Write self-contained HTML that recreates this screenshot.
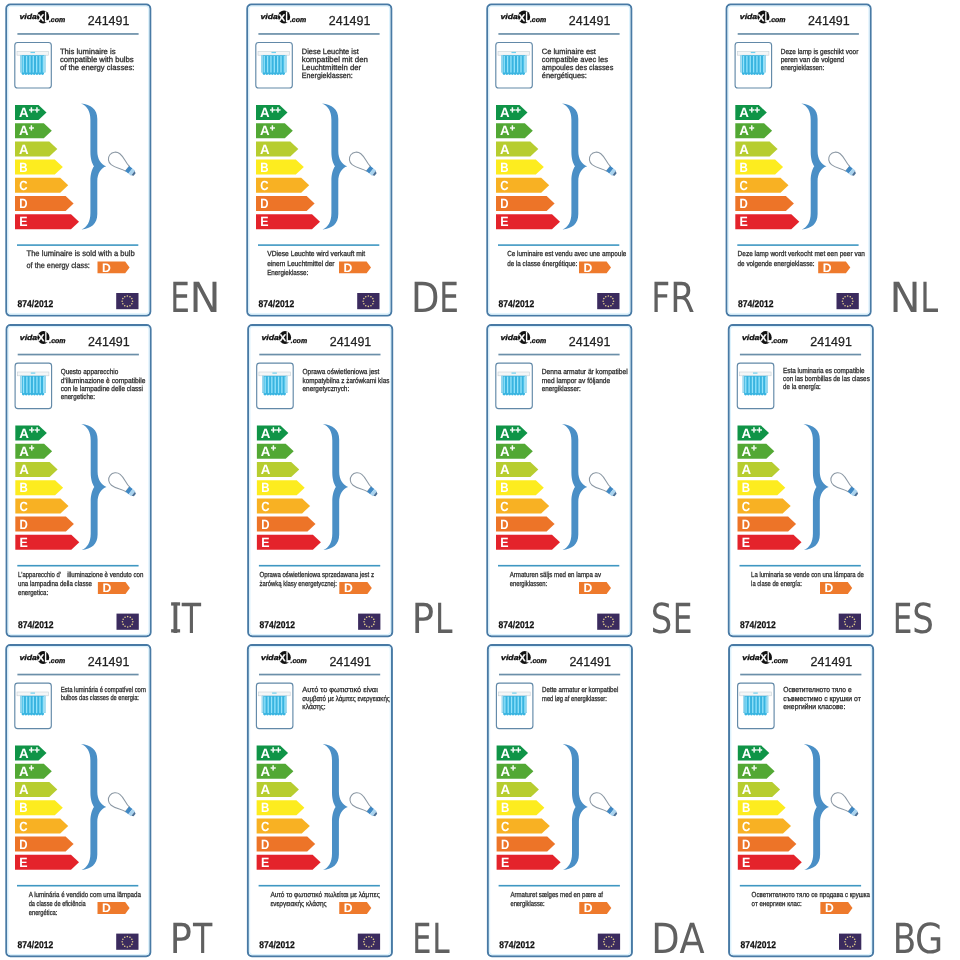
<!DOCTYPE html>
<html lang="en"><head><meta charset="utf-8"><title>Energy labels 241491</title>
<style>html,body{margin:0;padding:0;background:#fff}body{width:960px;height:960px;overflow:hidden}svg{display:block}</style></head><body>
<svg width="960" height="960" viewBox="0 0 960 960" text-rendering="geometricPrecision">
<rect width="960" height="960" fill="#fff"/>
<g transform="translate(0 0)">
<rect x="6.3" y="4.5" width="144" height="311.1" rx="4" fill="#fff" stroke="#487aa5" stroke-width="2"/>
<rect x="7.9" y="6.1" width="140.8" height="307.9" rx="2.8" fill="none" stroke="#dcf2fd" stroke-width="1.3"/>
<g font-family='"Liberation Sans", sans-serif' font-weight="700" font-style="italic" fill="#111">
<text x="19.5" y="19" font-size="7.3" textLength="17.4" lengthAdjust="spacingAndGlyphs" stroke="#111" stroke-width="0.3">vida</text>
<ellipse cx="43.1" cy="16.9" rx="6.1" ry="6.5" fill="#111"/>
<text y="21" font-style="normal" fill="#fff" stroke="#fff" stroke-width="0.25"><tspan x="37.5" font-size="9.6" textLength="6.6" lengthAdjust="spacingAndGlyphs">X</tspan><tspan x="44.4" y="22" font-size="15" textLength="4.6" lengthAdjust="spacingAndGlyphs">L</tspan></text>
<text x="48.9" y="22" font-size="7.1" textLength="16.3" lengthAdjust="spacingAndGlyphs" stroke="#111" stroke-width="0.3">.com</text>
</g>
<text x="87.8" y="25" font-family='"Liberation Sans", sans-serif' font-size="13" fill="#222" stroke="#222" stroke-width="0.25" textLength="41.6" lengthAdjust="spacingAndGlyphs">241491</text>
<rect x="17.4" y="33.1" width="121.2" height="1.7" fill="#6b8fa9"/>
<rect x="17" y="244.3" width="121.3" height="1.6" fill="#3f97c2"/>
<rect x="14.8" y="42.5" width="36.5" height="45.5" rx="2.8" fill="#fff" stroke="#6289a8" stroke-width="1.15"/>
<rect x="17" y="51.4" width="31.6" height="3.8" fill="#f4f6f7" stroke="#c9d2d8" stroke-width="0.6"/>
<rect x="30.5" y="51.9" width="4.5" height="1.2" fill="#6fd0ee"/>
<rect x="20.2" y="55.2" width="25.2" height="17.2" fill="#39b4e0"/>
<rect x="21.8" y="72.2" width="22" height="1.4" fill="#39b4e0"/>
<circle cx="23.1" cy="73.5" r="1.45" fill="#39b4e0"/>
<circle cx="25.87" cy="73.5" r="1.45" fill="#39b4e0"/>
<circle cx="28.64" cy="73.5" r="1.45" fill="#39b4e0"/>
<circle cx="31.41" cy="73.5" r="1.45" fill="#39b4e0"/>
<circle cx="34.18" cy="73.5" r="1.45" fill="#39b4e0"/>
<circle cx="36.95" cy="73.5" r="1.45" fill="#39b4e0"/>
<circle cx="39.72" cy="73.5" r="1.45" fill="#39b4e0"/>
<circle cx="42.49" cy="73.5" r="1.45" fill="#39b4e0"/>
<rect x="22.6" y="56" width="1.3" height="16.5" fill="#93e3fb"/>
<rect x="25.95" y="56" width="1.3" height="16.5" fill="#93e3fb"/>
<rect x="29.3" y="56" width="1.3" height="16.5" fill="#93e3fb"/>
<rect x="32.65" y="56" width="1.3" height="16.5" fill="#93e3fb"/>
<rect x="36" y="56" width="1.3" height="16.5" fill="#93e3fb"/>
<rect x="39.35" y="56" width="1.3" height="16.5" fill="#93e3fb"/>
<rect x="42.7" y="56" width="1.3" height="16.5" fill="#93e3fb"/>
<rect x="20.2" y="55.2" width="1.6" height="17" fill="#a5dcf0"/>
<rect x="43.8" y="55.2" width="1.6" height="17" fill="#a5dcf0"/>
<g font-family='"Liberation Sans", sans-serif' font-size="7.7" fill="#2c2c2c" stroke="#2c2c2c" stroke-width="0.28">
<text x="59.9" y="54" textLength="55.6" lengthAdjust="spacingAndGlyphs">This luminaire is</text>
<text x="59.9" y="62" textLength="73.7" lengthAdjust="spacingAndGlyphs">compatible with bulbs</text>
<text x="59.9" y="70" textLength="74.6" lengthAdjust="spacingAndGlyphs">of the energy classes:</text>
</g>
<path d="M15 105H38.5L46.5 112.5L38.5 120H15Z" fill="#0f9447"/>
<text x="18.9" y="117" font-family='"Liberation Sans", sans-serif' font-weight="700" font-size="13.3" fill="#fff">A<tspan font-size="9.2" dy="-4.5" dx="0.3" stroke="#fff" stroke-width="0.3">++</tspan></text>
<path d="M15 123.2H43.8L51.8 130.7L43.8 138.2H15Z" fill="#52a834"/>
<text x="18.9" y="135" font-family='"Liberation Sans", sans-serif' font-weight="700" font-size="13.3" fill="#fff">A<tspan font-size="9.2" dy="-4.5" dx="0.3" stroke="#fff" stroke-width="0.3">+</tspan></text>
<path d="M15 141.4H49.3L57.3 148.9L49.3 156.4H15Z" fill="#b7cd2f"/>
<text x="18.9" y="154" font-family='"Liberation Sans", sans-serif' font-weight="700" font-size="13.3" fill="#fff">A</text>
<path d="M15 159.6H54.8L62.8 167.1L54.8 174.6H15Z" fill="#fdec1f"/>
<text x="19.3" y="172" font-family='"Liberation Sans", sans-serif' font-weight="700" font-size="13.3" fill="#fff" textLength="8.3" lengthAdjust="spacingAndGlyphs">B</text>
<path d="M15 177.8H60.2L68.2 185.3L60.2 192.8H15Z" fill="#f8b123"/>
<text x="19.3" y="190" font-family='"Liberation Sans", sans-serif' font-weight="700" font-size="13.3" fill="#fff" textLength="8.3" lengthAdjust="spacingAndGlyphs">C</text>
<path d="M15 196H65.6L73.6 203.5L65.6 211H15Z" fill="#ed7428"/>
<text x="19.3" y="208" font-family='"Liberation Sans", sans-serif' font-weight="700" font-size="13.3" fill="#fff" textLength="8.3" lengthAdjust="spacingAndGlyphs">D</text>
<path d="M15 214.2H71L79 221.7L71 229.2H15Z" fill="#e4232b"/>
<text x="19.3" y="226" font-family='"Liberation Sans", sans-serif' font-weight="700" font-size="13.3" fill="#fff" textLength="8.3" lengthAdjust="spacingAndGlyphs">E</text>
<path d="M81 103.5C91 104.5 97.3 109 97.3 119V151C97.3 159 101 164.5 106.2 166.3C101 168 97.3 173.5 97.3 181.5V214C97.3 224 91 228.5 81.5 229.5C87 227 90.4 222 90.4 213V181C90.4 174 92 169 94 166.3C92 163.5 90.4 159 90.4 152V120C90.4 111 87 106 81 103.5Z" fill="#4a8fc6"/>
<g transform="translate(115.5 159.2) rotate(-51.5)">
<path d="M-3.1 15.2C-3.1 10.5 -7 6.2 -7 0A7 7.2 0 0 1 7 0C7 6.2 3.1 10.5 3.1 15.2Z" fill="#fff" stroke="#8b98a4" stroke-width="1.05"/>
<path d="M-3.3 15H3.3V19H-3.3Z" fill="#3f88c4"/>
<path d="M-3.3 19H3.3V22.4H-3.3Z" fill="#a9d3ee"/>
<path d="M-2.6 22.4H2.6L1.6 24.4H-1.6Z" fill="#4a6f96"/>
</g>
<g font-family='"Liberation Sans", sans-serif' font-size="8.1" fill="#2c2c2c" stroke="#2c2c2c" stroke-width="0.28">
<text x="26.5" y="256" textLength="108.2" lengthAdjust="spacingAndGlyphs">The luminaire is sold with a bulb</text>
<text x="26.5" y="268" textLength="63.4" lengthAdjust="spacingAndGlyphs">of the energy class:</text>
</g>
<path d="M97.5 261.5H125.2L129.6 267.4L125.2 273.3H97.5Z" fill="#ee7a2c"/>
<text x="102.1" y="272" font-family='"Liberation Sans", sans-serif' font-weight="700" font-size="12.2" fill="#fff">D</text>
<text x="17.6" y="307" font-family='"Liberation Sans", sans-serif' font-weight="700" font-size="9.8" fill="#111" stroke="#111" stroke-width="0.25" textLength="35.6" lengthAdjust="spacingAndGlyphs">874/2012</text>
<rect x="116.2" y="293" width="22.3" height="16.2" fill="#3b2b5e"/>
<circle cx="127.35" cy="296" r="0.8" fill="#e3cf8e"/>
<circle cx="129.95" cy="296.7" r="0.8" fill="#e3cf8e"/>
<circle cx="131.85" cy="298.6" r="0.8" fill="#e3cf8e"/>
<circle cx="132.55" cy="301.2" r="0.8" fill="#e3cf8e"/>
<circle cx="131.85" cy="303.8" r="0.8" fill="#e3cf8e"/>
<circle cx="129.95" cy="305.7" r="0.8" fill="#e3cf8e"/>
<circle cx="127.35" cy="306.4" r="0.8" fill="#e3cf8e"/>
<circle cx="124.75" cy="305.7" r="0.8" fill="#e3cf8e"/>
<circle cx="122.85" cy="303.8" r="0.8" fill="#e3cf8e"/>
<circle cx="122.15" cy="301.2" r="0.8" fill="#e3cf8e"/>
<circle cx="122.85" cy="298.6" r="0.8" fill="#e3cf8e"/>
<circle cx="124.75" cy="296.7" r="0.8" fill="#e3cf8e"/>
</g>
<g transform="translate(241 0)">
<rect x="6.3" y="4.5" width="144" height="311.1" rx="4" fill="#fff" stroke="#487aa5" stroke-width="2"/>
<rect x="7.9" y="6.1" width="140.8" height="307.9" rx="2.8" fill="none" stroke="#dcf2fd" stroke-width="1.3"/>
<g font-family='"Liberation Sans", sans-serif' font-weight="700" font-style="italic" fill="#111">
<text x="19.5" y="19" font-size="7.3" textLength="17.4" lengthAdjust="spacingAndGlyphs" stroke="#111" stroke-width="0.3">vida</text>
<ellipse cx="43.1" cy="16.9" rx="6.1" ry="6.5" fill="#111"/>
<text y="21" font-style="normal" fill="#fff" stroke="#fff" stroke-width="0.25"><tspan x="37.5" font-size="9.6" textLength="6.6" lengthAdjust="spacingAndGlyphs">X</tspan><tspan x="44.4" y="22" font-size="15" textLength="4.6" lengthAdjust="spacingAndGlyphs">L</tspan></text>
<text x="48.9" y="22" font-size="7.1" textLength="16.3" lengthAdjust="spacingAndGlyphs" stroke="#111" stroke-width="0.3">.com</text>
</g>
<text x="87.8" y="25" font-family='"Liberation Sans", sans-serif' font-size="13" fill="#222" stroke="#222" stroke-width="0.25" textLength="41.6" lengthAdjust="spacingAndGlyphs">241491</text>
<rect x="17.4" y="33.1" width="121.2" height="1.7" fill="#6b8fa9"/>
<rect x="17" y="244.3" width="121.3" height="1.6" fill="#3f97c2"/>
<rect x="14.8" y="42.5" width="36.5" height="45.5" rx="2.8" fill="#fff" stroke="#6289a8" stroke-width="1.15"/>
<rect x="17" y="51.4" width="31.6" height="3.8" fill="#f4f6f7" stroke="#c9d2d8" stroke-width="0.6"/>
<rect x="30.5" y="51.9" width="4.5" height="1.2" fill="#6fd0ee"/>
<rect x="20.2" y="55.2" width="25.2" height="17.2" fill="#39b4e0"/>
<rect x="21.8" y="72.2" width="22" height="1.4" fill="#39b4e0"/>
<circle cx="23.1" cy="73.5" r="1.45" fill="#39b4e0"/>
<circle cx="25.87" cy="73.5" r="1.45" fill="#39b4e0"/>
<circle cx="28.64" cy="73.5" r="1.45" fill="#39b4e0"/>
<circle cx="31.41" cy="73.5" r="1.45" fill="#39b4e0"/>
<circle cx="34.18" cy="73.5" r="1.45" fill="#39b4e0"/>
<circle cx="36.95" cy="73.5" r="1.45" fill="#39b4e0"/>
<circle cx="39.72" cy="73.5" r="1.45" fill="#39b4e0"/>
<circle cx="42.49" cy="73.5" r="1.45" fill="#39b4e0"/>
<rect x="22.6" y="56" width="1.3" height="16.5" fill="#93e3fb"/>
<rect x="25.95" y="56" width="1.3" height="16.5" fill="#93e3fb"/>
<rect x="29.3" y="56" width="1.3" height="16.5" fill="#93e3fb"/>
<rect x="32.65" y="56" width="1.3" height="16.5" fill="#93e3fb"/>
<rect x="36" y="56" width="1.3" height="16.5" fill="#93e3fb"/>
<rect x="39.35" y="56" width="1.3" height="16.5" fill="#93e3fb"/>
<rect x="42.7" y="56" width="1.3" height="16.5" fill="#93e3fb"/>
<rect x="20.2" y="55.2" width="1.6" height="17" fill="#a5dcf0"/>
<rect x="43.8" y="55.2" width="1.6" height="17" fill="#a5dcf0"/>
<g font-family='"Liberation Sans", sans-serif' font-size="7.7" fill="#2c2c2c" stroke="#2c2c2c" stroke-width="0.28">
<text x="60.8" y="54" textLength="56.95" lengthAdjust="spacingAndGlyphs">Diese Leuchte ist</text>
<text x="60.8" y="62" textLength="66.1" lengthAdjust="spacingAndGlyphs">kompatibel mit den</text>
<text x="60.8" y="70" textLength="59.3" lengthAdjust="spacingAndGlyphs">Leuchtmitteln der</text>
<text x="60.8" y="78" textLength="51" lengthAdjust="spacingAndGlyphs">Energieklassen:</text>
</g>
<path d="M15 105H38.5L46.5 112.5L38.5 120H15Z" fill="#0f9447"/>
<text x="18.9" y="117" font-family='"Liberation Sans", sans-serif' font-weight="700" font-size="13.3" fill="#fff">A<tspan font-size="9.2" dy="-4.5" dx="0.3" stroke="#fff" stroke-width="0.3">++</tspan></text>
<path d="M15 123.2H43.8L51.8 130.7L43.8 138.2H15Z" fill="#52a834"/>
<text x="18.9" y="135" font-family='"Liberation Sans", sans-serif' font-weight="700" font-size="13.3" fill="#fff">A<tspan font-size="9.2" dy="-4.5" dx="0.3" stroke="#fff" stroke-width="0.3">+</tspan></text>
<path d="M15 141.4H49.3L57.3 148.9L49.3 156.4H15Z" fill="#b7cd2f"/>
<text x="18.9" y="154" font-family='"Liberation Sans", sans-serif' font-weight="700" font-size="13.3" fill="#fff">A</text>
<path d="M15 159.6H54.8L62.8 167.1L54.8 174.6H15Z" fill="#fdec1f"/>
<text x="19.3" y="172" font-family='"Liberation Sans", sans-serif' font-weight="700" font-size="13.3" fill="#fff" textLength="8.3" lengthAdjust="spacingAndGlyphs">B</text>
<path d="M15 177.8H60.2L68.2 185.3L60.2 192.8H15Z" fill="#f8b123"/>
<text x="19.3" y="190" font-family='"Liberation Sans", sans-serif' font-weight="700" font-size="13.3" fill="#fff" textLength="8.3" lengthAdjust="spacingAndGlyphs">C</text>
<path d="M15 196H65.6L73.6 203.5L65.6 211H15Z" fill="#ed7428"/>
<text x="19.3" y="208" font-family='"Liberation Sans", sans-serif' font-weight="700" font-size="13.3" fill="#fff" textLength="8.3" lengthAdjust="spacingAndGlyphs">D</text>
<path d="M15 214.2H71L79 221.7L71 229.2H15Z" fill="#e4232b"/>
<text x="19.3" y="226" font-family='"Liberation Sans", sans-serif' font-weight="700" font-size="13.3" fill="#fff" textLength="8.3" lengthAdjust="spacingAndGlyphs">E</text>
<path d="M81 103.5C91 104.5 97.3 109 97.3 119V151C97.3 159 101 164.5 106.2 166.3C101 168 97.3 173.5 97.3 181.5V214C97.3 224 91 228.5 81.5 229.5C87 227 90.4 222 90.4 213V181C90.4 174 92 169 94 166.3C92 163.5 90.4 159 90.4 152V120C90.4 111 87 106 81 103.5Z" fill="#4a8fc6"/>
<g transform="translate(115.5 159.2) rotate(-51.5)">
<path d="M-3.1 15.2C-3.1 10.5 -7 6.2 -7 0A7 7.2 0 0 1 7 0C7 6.2 3.1 10.5 3.1 15.2Z" fill="#fff" stroke="#8b98a4" stroke-width="1.05"/>
<path d="M-3.3 15H3.3V19H-3.3Z" fill="#3f88c4"/>
<path d="M-3.3 19H3.3V22.4H-3.3Z" fill="#a9d3ee"/>
<path d="M-2.6 22.4H2.6L1.6 24.4H-1.6Z" fill="#4a6f96"/>
</g>
<g font-family='"Liberation Sans", sans-serif' font-size="7.4" fill="#2c2c2c" stroke="#2c2c2c" stroke-width="0.28">
<text x="26.2" y="256" textLength="98" lengthAdjust="spacingAndGlyphs">VDiese Leuchte wird verkauft mit</text>
<text x="26.2" y="266" textLength="67.4" lengthAdjust="spacingAndGlyphs">einem Leuchtmittel der</text>
<text x="26.2" y="275" textLength="41.1" lengthAdjust="spacingAndGlyphs">Energieklasse:</text>
</g>
<path d="M98 261.5H125.6L130 267.4L125.6 273.3H98Z" fill="#ee7a2c"/>
<text x="102.6" y="272" font-family='"Liberation Sans", sans-serif' font-weight="700" font-size="12.2" fill="#fff">D</text>
<text x="17.6" y="307" font-family='"Liberation Sans", sans-serif' font-weight="700" font-size="9.8" fill="#111" stroke="#111" stroke-width="0.25" textLength="35.6" lengthAdjust="spacingAndGlyphs">874/2012</text>
<rect x="116.2" y="293" width="22.3" height="16.2" fill="#3b2b5e"/>
<circle cx="127.35" cy="296" r="0.8" fill="#e3cf8e"/>
<circle cx="129.95" cy="296.7" r="0.8" fill="#e3cf8e"/>
<circle cx="131.85" cy="298.6" r="0.8" fill="#e3cf8e"/>
<circle cx="132.55" cy="301.2" r="0.8" fill="#e3cf8e"/>
<circle cx="131.85" cy="303.8" r="0.8" fill="#e3cf8e"/>
<circle cx="129.95" cy="305.7" r="0.8" fill="#e3cf8e"/>
<circle cx="127.35" cy="306.4" r="0.8" fill="#e3cf8e"/>
<circle cx="124.75" cy="305.7" r="0.8" fill="#e3cf8e"/>
<circle cx="122.85" cy="303.8" r="0.8" fill="#e3cf8e"/>
<circle cx="122.15" cy="301.2" r="0.8" fill="#e3cf8e"/>
<circle cx="122.85" cy="298.6" r="0.8" fill="#e3cf8e"/>
<circle cx="124.75" cy="296.7" r="0.8" fill="#e3cf8e"/>
</g>
<g transform="translate(481 0)">
<rect x="6.3" y="4.5" width="144" height="311.1" rx="4" fill="#fff" stroke="#487aa5" stroke-width="2"/>
<rect x="7.9" y="6.1" width="140.8" height="307.9" rx="2.8" fill="none" stroke="#dcf2fd" stroke-width="1.3"/>
<g font-family='"Liberation Sans", sans-serif' font-weight="700" font-style="italic" fill="#111">
<text x="19.5" y="19" font-size="7.3" textLength="17.4" lengthAdjust="spacingAndGlyphs" stroke="#111" stroke-width="0.3">vida</text>
<ellipse cx="43.1" cy="16.9" rx="6.1" ry="6.5" fill="#111"/>
<text y="21" font-style="normal" fill="#fff" stroke="#fff" stroke-width="0.25"><tspan x="37.5" font-size="9.6" textLength="6.6" lengthAdjust="spacingAndGlyphs">X</tspan><tspan x="44.4" y="22" font-size="15" textLength="4.6" lengthAdjust="spacingAndGlyphs">L</tspan></text>
<text x="48.9" y="22" font-size="7.1" textLength="16.3" lengthAdjust="spacingAndGlyphs" stroke="#111" stroke-width="0.3">.com</text>
</g>
<text x="87.8" y="25" font-family='"Liberation Sans", sans-serif' font-size="13" fill="#222" stroke="#222" stroke-width="0.25" textLength="41.6" lengthAdjust="spacingAndGlyphs">241491</text>
<rect x="17.4" y="33.1" width="121.2" height="1.7" fill="#6b8fa9"/>
<rect x="17" y="244.3" width="121.3" height="1.6" fill="#3f97c2"/>
<rect x="14.8" y="42.5" width="36.5" height="45.5" rx="2.8" fill="#fff" stroke="#6289a8" stroke-width="1.15"/>
<rect x="17" y="51.4" width="31.6" height="3.8" fill="#f4f6f7" stroke="#c9d2d8" stroke-width="0.6"/>
<rect x="30.5" y="51.9" width="4.5" height="1.2" fill="#6fd0ee"/>
<rect x="20.2" y="55.2" width="25.2" height="17.2" fill="#39b4e0"/>
<rect x="21.8" y="72.2" width="22" height="1.4" fill="#39b4e0"/>
<circle cx="23.1" cy="73.5" r="1.45" fill="#39b4e0"/>
<circle cx="25.87" cy="73.5" r="1.45" fill="#39b4e0"/>
<circle cx="28.64" cy="73.5" r="1.45" fill="#39b4e0"/>
<circle cx="31.41" cy="73.5" r="1.45" fill="#39b4e0"/>
<circle cx="34.18" cy="73.5" r="1.45" fill="#39b4e0"/>
<circle cx="36.95" cy="73.5" r="1.45" fill="#39b4e0"/>
<circle cx="39.72" cy="73.5" r="1.45" fill="#39b4e0"/>
<circle cx="42.49" cy="73.5" r="1.45" fill="#39b4e0"/>
<rect x="22.6" y="56" width="1.3" height="16.5" fill="#93e3fb"/>
<rect x="25.95" y="56" width="1.3" height="16.5" fill="#93e3fb"/>
<rect x="29.3" y="56" width="1.3" height="16.5" fill="#93e3fb"/>
<rect x="32.65" y="56" width="1.3" height="16.5" fill="#93e3fb"/>
<rect x="36" y="56" width="1.3" height="16.5" fill="#93e3fb"/>
<rect x="39.35" y="56" width="1.3" height="16.5" fill="#93e3fb"/>
<rect x="42.7" y="56" width="1.3" height="16.5" fill="#93e3fb"/>
<rect x="20.2" y="55.2" width="1.6" height="17" fill="#a5dcf0"/>
<rect x="43.8" y="55.2" width="1.6" height="17" fill="#a5dcf0"/>
<g font-family='"Liberation Sans", sans-serif' font-size="7.7" fill="#2c2c2c" stroke="#2c2c2c" stroke-width="0.28">
<text x="60.8" y="54" textLength="54.1" lengthAdjust="spacingAndGlyphs">Ce luminaire est</text>
<text x="60.8" y="62" textLength="66.1" lengthAdjust="spacingAndGlyphs">compatible avec les</text>
<text x="60.8" y="70" textLength="71.5" lengthAdjust="spacingAndGlyphs">ampoules des classes</text>
<text x="60.8" y="78" textLength="45" lengthAdjust="spacingAndGlyphs">énergétiques:</text>
</g>
<path d="M15 105H38.5L46.5 112.5L38.5 120H15Z" fill="#0f9447"/>
<text x="18.9" y="117" font-family='"Liberation Sans", sans-serif' font-weight="700" font-size="13.3" fill="#fff">A<tspan font-size="9.2" dy="-4.5" dx="0.3" stroke="#fff" stroke-width="0.3">++</tspan></text>
<path d="M15 123.2H43.8L51.8 130.7L43.8 138.2H15Z" fill="#52a834"/>
<text x="18.9" y="135" font-family='"Liberation Sans", sans-serif' font-weight="700" font-size="13.3" fill="#fff">A<tspan font-size="9.2" dy="-4.5" dx="0.3" stroke="#fff" stroke-width="0.3">+</tspan></text>
<path d="M15 141.4H49.3L57.3 148.9L49.3 156.4H15Z" fill="#b7cd2f"/>
<text x="18.9" y="154" font-family='"Liberation Sans", sans-serif' font-weight="700" font-size="13.3" fill="#fff">A</text>
<path d="M15 159.6H54.8L62.8 167.1L54.8 174.6H15Z" fill="#fdec1f"/>
<text x="19.3" y="172" font-family='"Liberation Sans", sans-serif' font-weight="700" font-size="13.3" fill="#fff" textLength="8.3" lengthAdjust="spacingAndGlyphs">B</text>
<path d="M15 177.8H60.2L68.2 185.3L60.2 192.8H15Z" fill="#f8b123"/>
<text x="19.3" y="190" font-family='"Liberation Sans", sans-serif' font-weight="700" font-size="13.3" fill="#fff" textLength="8.3" lengthAdjust="spacingAndGlyphs">C</text>
<path d="M15 196H65.6L73.6 203.5L65.6 211H15Z" fill="#ed7428"/>
<text x="19.3" y="208" font-family='"Liberation Sans", sans-serif' font-weight="700" font-size="13.3" fill="#fff" textLength="8.3" lengthAdjust="spacingAndGlyphs">D</text>
<path d="M15 214.2H71L79 221.7L71 229.2H15Z" fill="#e4232b"/>
<text x="19.3" y="226" font-family='"Liberation Sans", sans-serif' font-weight="700" font-size="13.3" fill="#fff" textLength="8.3" lengthAdjust="spacingAndGlyphs">E</text>
<path d="M81 103.5C91 104.5 97.3 109 97.3 119V151C97.3 159 101 164.5 106.2 166.3C101 168 97.3 173.5 97.3 181.5V214C97.3 224 91 228.5 81.5 229.5C87 227 90.4 222 90.4 213V181C90.4 174 92 169 94 166.3C92 163.5 90.4 159 90.4 152V120C90.4 111 87 106 81 103.5Z" fill="#4a8fc6"/>
<g transform="translate(115.5 159.2) rotate(-51.5)">
<path d="M-3.1 15.2C-3.1 10.5 -7 6.2 -7 0A7 7.2 0 0 1 7 0C7 6.2 3.1 10.5 3.1 15.2Z" fill="#fff" stroke="#8b98a4" stroke-width="1.05"/>
<path d="M-3.3 15H3.3V19H-3.3Z" fill="#3f88c4"/>
<path d="M-3.3 19H3.3V22.4H-3.3Z" fill="#a9d3ee"/>
<path d="M-2.6 22.4H2.6L1.6 24.4H-1.6Z" fill="#4a6f96"/>
</g>
<g font-family='"Liberation Sans", sans-serif' font-size="7.4" fill="#2c2c2c" stroke="#2c2c2c" stroke-width="0.28">
<text x="26.2" y="256" textLength="119.2" lengthAdjust="spacingAndGlyphs">Ce luminaire est vendu avec une ampoule</text>
<text x="26.2" y="266" textLength="70" lengthAdjust="spacingAndGlyphs">de la classe énergétique:</text>
</g>
<path d="M98 261.5H125.6L130 267.4L125.6 273.3H98Z" fill="#ee7a2c"/>
<text x="102.6" y="272" font-family='"Liberation Sans", sans-serif' font-weight="700" font-size="12.2" fill="#fff">D</text>
<text x="17.6" y="307" font-family='"Liberation Sans", sans-serif' font-weight="700" font-size="9.8" fill="#111" stroke="#111" stroke-width="0.25" textLength="35.6" lengthAdjust="spacingAndGlyphs">874/2012</text>
<rect x="116.2" y="293" width="22.3" height="16.2" fill="#3b2b5e"/>
<circle cx="127.35" cy="296" r="0.8" fill="#e3cf8e"/>
<circle cx="129.95" cy="296.7" r="0.8" fill="#e3cf8e"/>
<circle cx="131.85" cy="298.6" r="0.8" fill="#e3cf8e"/>
<circle cx="132.55" cy="301.2" r="0.8" fill="#e3cf8e"/>
<circle cx="131.85" cy="303.8" r="0.8" fill="#e3cf8e"/>
<circle cx="129.95" cy="305.7" r="0.8" fill="#e3cf8e"/>
<circle cx="127.35" cy="306.4" r="0.8" fill="#e3cf8e"/>
<circle cx="124.75" cy="305.7" r="0.8" fill="#e3cf8e"/>
<circle cx="122.85" cy="303.8" r="0.8" fill="#e3cf8e"/>
<circle cx="122.15" cy="301.2" r="0.8" fill="#e3cf8e"/>
<circle cx="122.85" cy="298.6" r="0.8" fill="#e3cf8e"/>
<circle cx="124.75" cy="296.7" r="0.8" fill="#e3cf8e"/>
</g>
<g transform="translate(720.3 0)">
<rect x="6.3" y="4.5" width="144" height="311.1" rx="4" fill="#fff" stroke="#487aa5" stroke-width="2"/>
<rect x="7.9" y="6.1" width="140.8" height="307.9" rx="2.8" fill="none" stroke="#dcf2fd" stroke-width="1.3"/>
<g font-family='"Liberation Sans", sans-serif' font-weight="700" font-style="italic" fill="#111">
<text x="19.5" y="19" font-size="7.3" textLength="17.4" lengthAdjust="spacingAndGlyphs" stroke="#111" stroke-width="0.3">vida</text>
<ellipse cx="43.1" cy="16.9" rx="6.1" ry="6.5" fill="#111"/>
<text y="21" font-style="normal" fill="#fff" stroke="#fff" stroke-width="0.25"><tspan x="37.5" font-size="9.6" textLength="6.6" lengthAdjust="spacingAndGlyphs">X</tspan><tspan x="44.4" y="22" font-size="15" textLength="4.6" lengthAdjust="spacingAndGlyphs">L</tspan></text>
<text x="48.9" y="22" font-size="7.1" textLength="16.3" lengthAdjust="spacingAndGlyphs" stroke="#111" stroke-width="0.3">.com</text>
</g>
<text x="87.8" y="25" font-family='"Liberation Sans", sans-serif' font-size="13" fill="#222" stroke="#222" stroke-width="0.25" textLength="41.6" lengthAdjust="spacingAndGlyphs">241491</text>
<rect x="17.4" y="33.1" width="121.2" height="1.7" fill="#6b8fa9"/>
<rect x="17" y="244.3" width="121.3" height="1.6" fill="#3f97c2"/>
<rect x="14.8" y="42.5" width="36.5" height="45.5" rx="2.8" fill="#fff" stroke="#6289a8" stroke-width="1.15"/>
<rect x="17" y="51.4" width="31.6" height="3.8" fill="#f4f6f7" stroke="#c9d2d8" stroke-width="0.6"/>
<rect x="30.5" y="51.9" width="4.5" height="1.2" fill="#6fd0ee"/>
<rect x="20.2" y="55.2" width="25.2" height="17.2" fill="#39b4e0"/>
<rect x="21.8" y="72.2" width="22" height="1.4" fill="#39b4e0"/>
<circle cx="23.1" cy="73.5" r="1.45" fill="#39b4e0"/>
<circle cx="25.87" cy="73.5" r="1.45" fill="#39b4e0"/>
<circle cx="28.64" cy="73.5" r="1.45" fill="#39b4e0"/>
<circle cx="31.41" cy="73.5" r="1.45" fill="#39b4e0"/>
<circle cx="34.18" cy="73.5" r="1.45" fill="#39b4e0"/>
<circle cx="36.95" cy="73.5" r="1.45" fill="#39b4e0"/>
<circle cx="39.72" cy="73.5" r="1.45" fill="#39b4e0"/>
<circle cx="42.49" cy="73.5" r="1.45" fill="#39b4e0"/>
<rect x="22.6" y="56" width="1.3" height="16.5" fill="#93e3fb"/>
<rect x="25.95" y="56" width="1.3" height="16.5" fill="#93e3fb"/>
<rect x="29.3" y="56" width="1.3" height="16.5" fill="#93e3fb"/>
<rect x="32.65" y="56" width="1.3" height="16.5" fill="#93e3fb"/>
<rect x="36" y="56" width="1.3" height="16.5" fill="#93e3fb"/>
<rect x="39.35" y="56" width="1.3" height="16.5" fill="#93e3fb"/>
<rect x="42.7" y="56" width="1.3" height="16.5" fill="#93e3fb"/>
<rect x="20.2" y="55.2" width="1.6" height="17" fill="#a5dcf0"/>
<rect x="43.8" y="55.2" width="1.6" height="17" fill="#a5dcf0"/>
<g font-family='"Liberation Sans", sans-serif' font-size="7.4" fill="#2c2c2c" stroke="#2c2c2c" stroke-width="0.28">
<text x="60.4" y="54" textLength="77.6" lengthAdjust="spacingAndGlyphs">Deze lamp is geschikt voor</text>
<text x="60.4" y="62" textLength="63.6" lengthAdjust="spacingAndGlyphs">peren van de volgend</text>
<text x="60.4" y="70" textLength="43.5" lengthAdjust="spacingAndGlyphs">energieklassen:</text>
</g>
<path d="M15 105H38.5L46.5 112.5L38.5 120H15Z" fill="#0f9447"/>
<text x="18.9" y="117" font-family='"Liberation Sans", sans-serif' font-weight="700" font-size="13.3" fill="#fff">A<tspan font-size="9.2" dy="-4.5" dx="0.3" stroke="#fff" stroke-width="0.3">++</tspan></text>
<path d="M15 123.2H43.8L51.8 130.7L43.8 138.2H15Z" fill="#52a834"/>
<text x="18.9" y="135" font-family='"Liberation Sans", sans-serif' font-weight="700" font-size="13.3" fill="#fff">A<tspan font-size="9.2" dy="-4.5" dx="0.3" stroke="#fff" stroke-width="0.3">+</tspan></text>
<path d="M15 141.4H49.3L57.3 148.9L49.3 156.4H15Z" fill="#b7cd2f"/>
<text x="18.9" y="154" font-family='"Liberation Sans", sans-serif' font-weight="700" font-size="13.3" fill="#fff">A</text>
<path d="M15 159.6H54.8L62.8 167.1L54.8 174.6H15Z" fill="#fdec1f"/>
<text x="19.3" y="172" font-family='"Liberation Sans", sans-serif' font-weight="700" font-size="13.3" fill="#fff" textLength="8.3" lengthAdjust="spacingAndGlyphs">B</text>
<path d="M15 177.8H60.2L68.2 185.3L60.2 192.8H15Z" fill="#f8b123"/>
<text x="19.3" y="190" font-family='"Liberation Sans", sans-serif' font-weight="700" font-size="13.3" fill="#fff" textLength="8.3" lengthAdjust="spacingAndGlyphs">C</text>
<path d="M15 196H65.6L73.6 203.5L65.6 211H15Z" fill="#ed7428"/>
<text x="19.3" y="208" font-family='"Liberation Sans", sans-serif' font-weight="700" font-size="13.3" fill="#fff" textLength="8.3" lengthAdjust="spacingAndGlyphs">D</text>
<path d="M15 214.2H71L79 221.7L71 229.2H15Z" fill="#e4232b"/>
<text x="19.3" y="226" font-family='"Liberation Sans", sans-serif' font-weight="700" font-size="13.3" fill="#fff" textLength="8.3" lengthAdjust="spacingAndGlyphs">E</text>
<path d="M81 103.5C91 104.5 97.3 109 97.3 119V151C97.3 159 101 164.5 106.2 166.3C101 168 97.3 173.5 97.3 181.5V214C97.3 224 91 228.5 81.5 229.5C87 227 90.4 222 90.4 213V181C90.4 174 92 169 94 166.3C92 163.5 90.4 159 90.4 152V120C90.4 111 87 106 81 103.5Z" fill="#4a8fc6"/>
<g transform="translate(115.5 159.2) rotate(-51.5)">
<path d="M-3.1 15.2C-3.1 10.5 -7 6.2 -7 0A7 7.2 0 0 1 7 0C7 6.2 3.1 10.5 3.1 15.2Z" fill="#fff" stroke="#8b98a4" stroke-width="1.05"/>
<path d="M-3.3 15H3.3V19H-3.3Z" fill="#3f88c4"/>
<path d="M-3.3 19H3.3V22.4H-3.3Z" fill="#a9d3ee"/>
<path d="M-2.6 22.4H2.6L1.6 24.4H-1.6Z" fill="#4a6f96"/>
</g>
<g font-family='"Liberation Sans", sans-serif' font-size="7.4" fill="#2c2c2c" stroke="#2c2c2c" stroke-width="0.28">
<text x="17.3" y="256" textLength="127.3" lengthAdjust="spacingAndGlyphs">Deze lamp wordt verkocht met een peer van</text>
<text x="17.3" y="266" textLength="77" lengthAdjust="spacingAndGlyphs">de volgende energieklasse:</text>
</g>
<path d="M97.9 261.5H125.6L130 267.4L125.6 273.3H97.9Z" fill="#ee7a2c"/>
<text x="102.5" y="272" font-family='"Liberation Sans", sans-serif' font-weight="700" font-size="12.2" fill="#fff">D</text>
<text x="17.6" y="307" font-family='"Liberation Sans", sans-serif' font-weight="700" font-size="9.8" fill="#111" stroke="#111" stroke-width="0.25" textLength="35.6" lengthAdjust="spacingAndGlyphs">874/2012</text>
<rect x="116.2" y="293" width="22.3" height="16.2" fill="#3b2b5e"/>
<circle cx="127.35" cy="296" r="0.8" fill="#e3cf8e"/>
<circle cx="129.95" cy="296.7" r="0.8" fill="#e3cf8e"/>
<circle cx="131.85" cy="298.6" r="0.8" fill="#e3cf8e"/>
<circle cx="132.55" cy="301.2" r="0.8" fill="#e3cf8e"/>
<circle cx="131.85" cy="303.8" r="0.8" fill="#e3cf8e"/>
<circle cx="129.95" cy="305.7" r="0.8" fill="#e3cf8e"/>
<circle cx="127.35" cy="306.4" r="0.8" fill="#e3cf8e"/>
<circle cx="124.75" cy="305.7" r="0.8" fill="#e3cf8e"/>
<circle cx="122.85" cy="303.8" r="0.8" fill="#e3cf8e"/>
<circle cx="122.15" cy="301.2" r="0.8" fill="#e3cf8e"/>
<circle cx="122.85" cy="298.6" r="0.8" fill="#e3cf8e"/>
<circle cx="124.75" cy="296.7" r="0.8" fill="#e3cf8e"/>
</g>
<g transform="translate(0.3 320.6)">
<rect x="6.3" y="4.5" width="144" height="311.1" rx="4" fill="#fff" stroke="#487aa5" stroke-width="2"/>
<rect x="7.9" y="6.1" width="140.8" height="307.9" rx="2.8" fill="none" stroke="#dcf2fd" stroke-width="1.3"/>
<g font-family='"Liberation Sans", sans-serif' font-weight="700" font-style="italic" fill="#111">
<text x="19.5" y="19.4" font-size="7.3" textLength="17.4" lengthAdjust="spacingAndGlyphs" stroke="#111" stroke-width="0.3">vida</text>
<ellipse cx="43.1" cy="16.9" rx="6.1" ry="6.5" fill="#111"/>
<text y="20.4" font-style="normal" fill="#fff" stroke="#fff" stroke-width="0.25"><tspan x="37.5" font-size="9.6" textLength="6.6" lengthAdjust="spacingAndGlyphs">X</tspan><tspan x="44.4" y="21.4" font-size="15" textLength="4.6" lengthAdjust="spacingAndGlyphs">L</tspan></text>
<text x="48.9" y="22.4" font-size="7.1" textLength="16.3" lengthAdjust="spacingAndGlyphs" stroke="#111" stroke-width="0.3">.com</text>
</g>
<text x="87.8" y="25.4" font-family='"Liberation Sans", sans-serif' font-size="13" fill="#222" stroke="#222" stroke-width="0.25" textLength="41.6" lengthAdjust="spacingAndGlyphs">241491</text>
<rect x="17.4" y="33.1" width="121.2" height="1.7" fill="#6b8fa9"/>
<rect x="17" y="244.3" width="121.3" height="1.6" fill="#3f97c2"/>
<rect x="14.8" y="42.5" width="36.5" height="45.5" rx="2.8" fill="#fff" stroke="#6289a8" stroke-width="1.15"/>
<rect x="17" y="51.4" width="31.6" height="3.8" fill="#f4f6f7" stroke="#c9d2d8" stroke-width="0.6"/>
<rect x="30.5" y="51.9" width="4.5" height="1.2" fill="#6fd0ee"/>
<rect x="20.2" y="55.2" width="25.2" height="17.2" fill="#39b4e0"/>
<rect x="21.8" y="72.2" width="22" height="1.4" fill="#39b4e0"/>
<circle cx="23.1" cy="73.5" r="1.45" fill="#39b4e0"/>
<circle cx="25.87" cy="73.5" r="1.45" fill="#39b4e0"/>
<circle cx="28.64" cy="73.5" r="1.45" fill="#39b4e0"/>
<circle cx="31.41" cy="73.5" r="1.45" fill="#39b4e0"/>
<circle cx="34.18" cy="73.5" r="1.45" fill="#39b4e0"/>
<circle cx="36.95" cy="73.5" r="1.45" fill="#39b4e0"/>
<circle cx="39.72" cy="73.5" r="1.45" fill="#39b4e0"/>
<circle cx="42.49" cy="73.5" r="1.45" fill="#39b4e0"/>
<rect x="22.6" y="56" width="1.3" height="16.5" fill="#93e3fb"/>
<rect x="25.95" y="56" width="1.3" height="16.5" fill="#93e3fb"/>
<rect x="29.3" y="56" width="1.3" height="16.5" fill="#93e3fb"/>
<rect x="32.65" y="56" width="1.3" height="16.5" fill="#93e3fb"/>
<rect x="36" y="56" width="1.3" height="16.5" fill="#93e3fb"/>
<rect x="39.35" y="56" width="1.3" height="16.5" fill="#93e3fb"/>
<rect x="42.7" y="56" width="1.3" height="16.5" fill="#93e3fb"/>
<rect x="20.2" y="55.2" width="1.6" height="17" fill="#a5dcf0"/>
<rect x="43.8" y="55.2" width="1.6" height="17" fill="#a5dcf0"/>
<g font-family='"Liberation Sans", sans-serif' font-size="7.4" fill="#2c2c2c" stroke="#2c2c2c" stroke-width="0.28">
<text x="60.4" y="53.4" textLength="57.6" lengthAdjust="spacingAndGlyphs">Questo apparecchio</text>
<text x="60.4" y="62.4" textLength="84.7" lengthAdjust="spacingAndGlyphs">d'illuminazione è compatibile</text>
<text x="60.4" y="70.4" textLength="82.3" lengthAdjust="spacingAndGlyphs">con le lampadine delle classi</text>
<text x="60.4" y="78.4" textLength="34.4" lengthAdjust="spacingAndGlyphs">energetiche:</text>
</g>
<path d="M15 105H38.5L46.5 112.5L38.5 120H15Z" fill="#0f9447"/>
<text x="18.9" y="117.4" font-family='"Liberation Sans", sans-serif' font-weight="700" font-size="13.3" fill="#fff">A<tspan font-size="9.2" dy="-4.5" dx="0.3" stroke="#fff" stroke-width="0.3">++</tspan></text>
<path d="M15 123.2H43.8L51.8 130.7L43.8 138.2H15Z" fill="#52a834"/>
<text x="18.9" y="135.4" font-family='"Liberation Sans", sans-serif' font-weight="700" font-size="13.3" fill="#fff">A<tspan font-size="9.2" dy="-4.5" dx="0.3" stroke="#fff" stroke-width="0.3">+</tspan></text>
<path d="M15 141.4H49.3L57.3 148.9L49.3 156.4H15Z" fill="#b7cd2f"/>
<text x="18.9" y="153.4" font-family='"Liberation Sans", sans-serif' font-weight="700" font-size="13.3" fill="#fff">A</text>
<path d="M15 159.6H54.8L62.8 167.1L54.8 174.6H15Z" fill="#fdec1f"/>
<text x="19.3" y="171.4" font-family='"Liberation Sans", sans-serif' font-weight="700" font-size="13.3" fill="#fff" textLength="8.3" lengthAdjust="spacingAndGlyphs">B</text>
<path d="M15 177.8H60.2L68.2 185.3L60.2 192.8H15Z" fill="#f8b123"/>
<text x="19.3" y="190.4" font-family='"Liberation Sans", sans-serif' font-weight="700" font-size="13.3" fill="#fff" textLength="8.3" lengthAdjust="spacingAndGlyphs">C</text>
<path d="M15 196H65.6L73.6 203.5L65.6 211H15Z" fill="#ed7428"/>
<text x="19.3" y="208.4" font-family='"Liberation Sans", sans-serif' font-weight="700" font-size="13.3" fill="#fff" textLength="8.3" lengthAdjust="spacingAndGlyphs">D</text>
<path d="M15 214.2H71L79 221.7L71 229.2H15Z" fill="#e4232b"/>
<text x="19.3" y="226.4" font-family='"Liberation Sans", sans-serif' font-weight="700" font-size="13.3" fill="#fff" textLength="8.3" lengthAdjust="spacingAndGlyphs">E</text>
<path d="M81 103.5C91 104.5 97.3 109 97.3 119V151C97.3 159 101 164.5 106.2 166.3C101 168 97.3 173.5 97.3 181.5V214C97.3 224 91 228.5 81.5 229.5C87 227 90.4 222 90.4 213V181C90.4 174 92 169 94 166.3C92 163.5 90.4 159 90.4 152V120C90.4 111 87 106 81 103.5Z" fill="#4a8fc6"/>
<g transform="translate(115.5 159.2) rotate(-51.5)">
<path d="M-3.1 15.2C-3.1 10.5 -7 6.2 -7 0A7 7.2 0 0 1 7 0C7 6.2 3.1 10.5 3.1 15.2Z" fill="#fff" stroke="#8b98a4" stroke-width="1.05"/>
<path d="M-3.3 15H3.3V19H-3.3Z" fill="#3f88c4"/>
<path d="M-3.3 19H3.3V22.4H-3.3Z" fill="#a9d3ee"/>
<path d="M-2.6 22.4H2.6L1.6 24.4H-1.6Z" fill="#4a6f96"/>
</g>
<g font-family='"Liberation Sans", sans-serif' font-size="7.4" fill="#2c2c2c" stroke="#2c2c2c" stroke-width="0.28">
<text x="17.7" y="256.4" textLength="43" lengthAdjust="spacingAndGlyphs">L'apparecchio d'</text>
<text x="66.9" y="256.4" textLength="76.2" lengthAdjust="spacingAndGlyphs">illuminazione è venduto con</text>
<text x="17.7" y="265.4" textLength="74" lengthAdjust="spacingAndGlyphs">una lampadina della classe</text>
<text x="17.7" y="274.4" textLength="30.2" lengthAdjust="spacingAndGlyphs">energetica:</text>
</g>
<path d="M97.6 261.5H125.2L129.6 267.4L125.2 273.3H97.6Z" fill="#ee7a2c"/>
<text x="102.2" y="271.4" font-family='"Liberation Sans", sans-serif' font-weight="700" font-size="12.2" fill="#fff">D</text>
<text x="17.6" y="307.4" font-family='"Liberation Sans", sans-serif' font-weight="700" font-size="9.8" fill="#111" stroke="#111" stroke-width="0.25" textLength="35.6" lengthAdjust="spacingAndGlyphs">874/2012</text>
<rect x="116.2" y="293" width="22.3" height="16.2" fill="#3b2b5e"/>
<circle cx="127.35" cy="296" r="0.8" fill="#e3cf8e"/>
<circle cx="129.95" cy="296.7" r="0.8" fill="#e3cf8e"/>
<circle cx="131.85" cy="298.6" r="0.8" fill="#e3cf8e"/>
<circle cx="132.55" cy="301.2" r="0.8" fill="#e3cf8e"/>
<circle cx="131.85" cy="303.8" r="0.8" fill="#e3cf8e"/>
<circle cx="129.95" cy="305.7" r="0.8" fill="#e3cf8e"/>
<circle cx="127.35" cy="306.4" r="0.8" fill="#e3cf8e"/>
<circle cx="124.75" cy="305.7" r="0.8" fill="#e3cf8e"/>
<circle cx="122.85" cy="303.8" r="0.8" fill="#e3cf8e"/>
<circle cx="122.15" cy="301.2" r="0.8" fill="#e3cf8e"/>
<circle cx="122.85" cy="298.6" r="0.8" fill="#e3cf8e"/>
<circle cx="124.75" cy="296.7" r="0.8" fill="#e3cf8e"/>
</g>
<g transform="translate(241.9 320.6)">
<rect x="6.3" y="4.5" width="144" height="311.1" rx="4" fill="#fff" stroke="#487aa5" stroke-width="2"/>
<rect x="7.9" y="6.1" width="140.8" height="307.9" rx="2.8" fill="none" stroke="#dcf2fd" stroke-width="1.3"/>
<g font-family='"Liberation Sans", sans-serif' font-weight="700" font-style="italic" fill="#111">
<text x="19.5" y="19.4" font-size="7.3" textLength="17.4" lengthAdjust="spacingAndGlyphs" stroke="#111" stroke-width="0.3">vida</text>
<ellipse cx="43.1" cy="16.9" rx="6.1" ry="6.5" fill="#111"/>
<text y="20.4" font-style="normal" fill="#fff" stroke="#fff" stroke-width="0.25"><tspan x="37.5" font-size="9.6" textLength="6.6" lengthAdjust="spacingAndGlyphs">X</tspan><tspan x="44.4" y="21.4" font-size="15" textLength="4.6" lengthAdjust="spacingAndGlyphs">L</tspan></text>
<text x="48.9" y="22.4" font-size="7.1" textLength="16.3" lengthAdjust="spacingAndGlyphs" stroke="#111" stroke-width="0.3">.com</text>
</g>
<text x="87.8" y="25.4" font-family='"Liberation Sans", sans-serif' font-size="13" fill="#222" stroke="#222" stroke-width="0.25" textLength="41.6" lengthAdjust="spacingAndGlyphs">241491</text>
<rect x="17.4" y="33.1" width="121.2" height="1.7" fill="#6b8fa9"/>
<rect x="17" y="244.3" width="121.3" height="1.6" fill="#3f97c2"/>
<rect x="14.8" y="42.5" width="36.5" height="45.5" rx="2.8" fill="#fff" stroke="#6289a8" stroke-width="1.15"/>
<rect x="17" y="51.4" width="31.6" height="3.8" fill="#f4f6f7" stroke="#c9d2d8" stroke-width="0.6"/>
<rect x="30.5" y="51.9" width="4.5" height="1.2" fill="#6fd0ee"/>
<rect x="20.2" y="55.2" width="25.2" height="17.2" fill="#39b4e0"/>
<rect x="21.8" y="72.2" width="22" height="1.4" fill="#39b4e0"/>
<circle cx="23.1" cy="73.5" r="1.45" fill="#39b4e0"/>
<circle cx="25.87" cy="73.5" r="1.45" fill="#39b4e0"/>
<circle cx="28.64" cy="73.5" r="1.45" fill="#39b4e0"/>
<circle cx="31.41" cy="73.5" r="1.45" fill="#39b4e0"/>
<circle cx="34.18" cy="73.5" r="1.45" fill="#39b4e0"/>
<circle cx="36.95" cy="73.5" r="1.45" fill="#39b4e0"/>
<circle cx="39.72" cy="73.5" r="1.45" fill="#39b4e0"/>
<circle cx="42.49" cy="73.5" r="1.45" fill="#39b4e0"/>
<rect x="22.6" y="56" width="1.3" height="16.5" fill="#93e3fb"/>
<rect x="25.95" y="56" width="1.3" height="16.5" fill="#93e3fb"/>
<rect x="29.3" y="56" width="1.3" height="16.5" fill="#93e3fb"/>
<rect x="32.65" y="56" width="1.3" height="16.5" fill="#93e3fb"/>
<rect x="36" y="56" width="1.3" height="16.5" fill="#93e3fb"/>
<rect x="39.35" y="56" width="1.3" height="16.5" fill="#93e3fb"/>
<rect x="42.7" y="56" width="1.3" height="16.5" fill="#93e3fb"/>
<rect x="20.2" y="55.2" width="1.6" height="17" fill="#a5dcf0"/>
<rect x="43.8" y="55.2" width="1.6" height="17" fill="#a5dcf0"/>
<g font-family='"Liberation Sans", sans-serif' font-size="7.4" fill="#2c2c2c" stroke="#2c2c2c" stroke-width="0.28">
<text x="60.6" y="53.4" textLength="76.9" lengthAdjust="spacingAndGlyphs">Oprawa oświetleniowa jest</text>
<text x="60.6" y="62.4" textLength="86.8" lengthAdjust="spacingAndGlyphs">kompatybilna z żarówkami klas</text>
<text x="60.6" y="70.4" textLength="46.7" lengthAdjust="spacingAndGlyphs">energetycznych:</text>
</g>
<path d="M15 105H38.5L46.5 112.5L38.5 120H15Z" fill="#0f9447"/>
<text x="18.9" y="117.4" font-family='"Liberation Sans", sans-serif' font-weight="700" font-size="13.3" fill="#fff">A<tspan font-size="9.2" dy="-4.5" dx="0.3" stroke="#fff" stroke-width="0.3">++</tspan></text>
<path d="M15 123.2H43.8L51.8 130.7L43.8 138.2H15Z" fill="#52a834"/>
<text x="18.9" y="135.4" font-family='"Liberation Sans", sans-serif' font-weight="700" font-size="13.3" fill="#fff">A<tspan font-size="9.2" dy="-4.5" dx="0.3" stroke="#fff" stroke-width="0.3">+</tspan></text>
<path d="M15 141.4H49.3L57.3 148.9L49.3 156.4H15Z" fill="#b7cd2f"/>
<text x="18.9" y="153.4" font-family='"Liberation Sans", sans-serif' font-weight="700" font-size="13.3" fill="#fff">A</text>
<path d="M15 159.6H54.8L62.8 167.1L54.8 174.6H15Z" fill="#fdec1f"/>
<text x="19.3" y="171.4" font-family='"Liberation Sans", sans-serif' font-weight="700" font-size="13.3" fill="#fff" textLength="8.3" lengthAdjust="spacingAndGlyphs">B</text>
<path d="M15 177.8H60.2L68.2 185.3L60.2 192.8H15Z" fill="#f8b123"/>
<text x="19.3" y="190.4" font-family='"Liberation Sans", sans-serif' font-weight="700" font-size="13.3" fill="#fff" textLength="8.3" lengthAdjust="spacingAndGlyphs">C</text>
<path d="M15 196H65.6L73.6 203.5L65.6 211H15Z" fill="#ed7428"/>
<text x="19.3" y="208.4" font-family='"Liberation Sans", sans-serif' font-weight="700" font-size="13.3" fill="#fff" textLength="8.3" lengthAdjust="spacingAndGlyphs">D</text>
<path d="M15 214.2H71L79 221.7L71 229.2H15Z" fill="#e4232b"/>
<text x="19.3" y="226.4" font-family='"Liberation Sans", sans-serif' font-weight="700" font-size="13.3" fill="#fff" textLength="8.3" lengthAdjust="spacingAndGlyphs">E</text>
<path d="M81 103.5C91 104.5 97.3 109 97.3 119V151C97.3 159 101 164.5 106.2 166.3C101 168 97.3 173.5 97.3 181.5V214C97.3 224 91 228.5 81.5 229.5C87 227 90.4 222 90.4 213V181C90.4 174 92 169 94 166.3C92 163.5 90.4 159 90.4 152V120C90.4 111 87 106 81 103.5Z" fill="#4a8fc6"/>
<g transform="translate(115.5 159.2) rotate(-51.5)">
<path d="M-3.1 15.2C-3.1 10.5 -7 6.2 -7 0A7 7.2 0 0 1 7 0C7 6.2 3.1 10.5 3.1 15.2Z" fill="#fff" stroke="#8b98a4" stroke-width="1.05"/>
<path d="M-3.3 15H3.3V19H-3.3Z" fill="#3f88c4"/>
<path d="M-3.3 19H3.3V22.4H-3.3Z" fill="#a9d3ee"/>
<path d="M-2.6 22.4H2.6L1.6 24.4H-1.6Z" fill="#4a6f96"/>
</g>
<g font-family='"Liberation Sans", sans-serif' font-size="7.4" fill="#2c2c2c" stroke="#2c2c2c" stroke-width="0.28">
<text x="17.6" y="256.4" textLength="114.5" lengthAdjust="spacingAndGlyphs">Oprawa oświetleniowa sprzedawana jest z</text>
<text x="17.6" y="265.4" textLength="77.3" lengthAdjust="spacingAndGlyphs">żarówką klasy energetycznej:</text>
</g>
<path d="M97.4 261.5H125.5L129.9 267.4L125.5 273.3H97.4Z" fill="#ee7a2c"/>
<text x="102" y="271.4" font-family='"Liberation Sans", sans-serif' font-weight="700" font-size="12.2" fill="#fff">D</text>
<text x="17.6" y="307.4" font-family='"Liberation Sans", sans-serif' font-weight="700" font-size="9.8" fill="#111" stroke="#111" stroke-width="0.25" textLength="35.6" lengthAdjust="spacingAndGlyphs">874/2012</text>
<rect x="116.2" y="293" width="22.3" height="16.2" fill="#3b2b5e"/>
<circle cx="127.35" cy="296" r="0.8" fill="#e3cf8e"/>
<circle cx="129.95" cy="296.7" r="0.8" fill="#e3cf8e"/>
<circle cx="131.85" cy="298.6" r="0.8" fill="#e3cf8e"/>
<circle cx="132.55" cy="301.2" r="0.8" fill="#e3cf8e"/>
<circle cx="131.85" cy="303.8" r="0.8" fill="#e3cf8e"/>
<circle cx="129.95" cy="305.7" r="0.8" fill="#e3cf8e"/>
<circle cx="127.35" cy="306.4" r="0.8" fill="#e3cf8e"/>
<circle cx="124.75" cy="305.7" r="0.8" fill="#e3cf8e"/>
<circle cx="122.85" cy="303.8" r="0.8" fill="#e3cf8e"/>
<circle cx="122.15" cy="301.2" r="0.8" fill="#e3cf8e"/>
<circle cx="122.85" cy="298.6" r="0.8" fill="#e3cf8e"/>
<circle cx="124.75" cy="296.7" r="0.8" fill="#e3cf8e"/>
</g>
<g transform="translate(481 320.6)">
<rect x="6.3" y="4.5" width="144" height="311.1" rx="4" fill="#fff" stroke="#487aa5" stroke-width="2"/>
<rect x="7.9" y="6.1" width="140.8" height="307.9" rx="2.8" fill="none" stroke="#dcf2fd" stroke-width="1.3"/>
<g font-family='"Liberation Sans", sans-serif' font-weight="700" font-style="italic" fill="#111">
<text x="19.5" y="19.4" font-size="7.3" textLength="17.4" lengthAdjust="spacingAndGlyphs" stroke="#111" stroke-width="0.3">vida</text>
<ellipse cx="43.1" cy="16.9" rx="6.1" ry="6.5" fill="#111"/>
<text y="20.4" font-style="normal" fill="#fff" stroke="#fff" stroke-width="0.25"><tspan x="37.5" font-size="9.6" textLength="6.6" lengthAdjust="spacingAndGlyphs">X</tspan><tspan x="44.4" y="21.4" font-size="15" textLength="4.6" lengthAdjust="spacingAndGlyphs">L</tspan></text>
<text x="48.9" y="22.4" font-size="7.1" textLength="16.3" lengthAdjust="spacingAndGlyphs" stroke="#111" stroke-width="0.3">.com</text>
</g>
<text x="87.8" y="25.4" font-family='"Liberation Sans", sans-serif' font-size="13" fill="#222" stroke="#222" stroke-width="0.25" textLength="41.6" lengthAdjust="spacingAndGlyphs">241491</text>
<rect x="17.4" y="33.1" width="121.2" height="1.7" fill="#6b8fa9"/>
<rect x="17" y="244.3" width="121.3" height="1.6" fill="#3f97c2"/>
<rect x="14.8" y="42.5" width="36.5" height="45.5" rx="2.8" fill="#fff" stroke="#6289a8" stroke-width="1.15"/>
<rect x="17" y="51.4" width="31.6" height="3.8" fill="#f4f6f7" stroke="#c9d2d8" stroke-width="0.6"/>
<rect x="30.5" y="51.9" width="4.5" height="1.2" fill="#6fd0ee"/>
<rect x="20.2" y="55.2" width="25.2" height="17.2" fill="#39b4e0"/>
<rect x="21.8" y="72.2" width="22" height="1.4" fill="#39b4e0"/>
<circle cx="23.1" cy="73.5" r="1.45" fill="#39b4e0"/>
<circle cx="25.87" cy="73.5" r="1.45" fill="#39b4e0"/>
<circle cx="28.64" cy="73.5" r="1.45" fill="#39b4e0"/>
<circle cx="31.41" cy="73.5" r="1.45" fill="#39b4e0"/>
<circle cx="34.18" cy="73.5" r="1.45" fill="#39b4e0"/>
<circle cx="36.95" cy="73.5" r="1.45" fill="#39b4e0"/>
<circle cx="39.72" cy="73.5" r="1.45" fill="#39b4e0"/>
<circle cx="42.49" cy="73.5" r="1.45" fill="#39b4e0"/>
<rect x="22.6" y="56" width="1.3" height="16.5" fill="#93e3fb"/>
<rect x="25.95" y="56" width="1.3" height="16.5" fill="#93e3fb"/>
<rect x="29.3" y="56" width="1.3" height="16.5" fill="#93e3fb"/>
<rect x="32.65" y="56" width="1.3" height="16.5" fill="#93e3fb"/>
<rect x="36" y="56" width="1.3" height="16.5" fill="#93e3fb"/>
<rect x="39.35" y="56" width="1.3" height="16.5" fill="#93e3fb"/>
<rect x="42.7" y="56" width="1.3" height="16.5" fill="#93e3fb"/>
<rect x="20.2" y="55.2" width="1.6" height="17" fill="#a5dcf0"/>
<rect x="43.8" y="55.2" width="1.6" height="17" fill="#a5dcf0"/>
<g font-family='"Liberation Sans", sans-serif' font-size="7.4" fill="#2c2c2c" stroke="#2c2c2c" stroke-width="0.28">
<text x="60.8" y="53.4" textLength="85.9" lengthAdjust="spacingAndGlyphs">Denna armatur är kompatibel</text>
<text x="60.8" y="62.4" textLength="68.4" lengthAdjust="spacingAndGlyphs">med lampor av följande</text>
<text x="60.8" y="70.4" textLength="39" lengthAdjust="spacingAndGlyphs">energiklasser:</text>
</g>
<path d="M15 105H38.5L46.5 112.5L38.5 120H15Z" fill="#0f9447"/>
<text x="18.9" y="117.4" font-family='"Liberation Sans", sans-serif' font-weight="700" font-size="13.3" fill="#fff">A<tspan font-size="9.2" dy="-4.5" dx="0.3" stroke="#fff" stroke-width="0.3">++</tspan></text>
<path d="M15 123.2H43.8L51.8 130.7L43.8 138.2H15Z" fill="#52a834"/>
<text x="18.9" y="135.4" font-family='"Liberation Sans", sans-serif' font-weight="700" font-size="13.3" fill="#fff">A<tspan font-size="9.2" dy="-4.5" dx="0.3" stroke="#fff" stroke-width="0.3">+</tspan></text>
<path d="M15 141.4H49.3L57.3 148.9L49.3 156.4H15Z" fill="#b7cd2f"/>
<text x="18.9" y="153.4" font-family='"Liberation Sans", sans-serif' font-weight="700" font-size="13.3" fill="#fff">A</text>
<path d="M15 159.6H54.8L62.8 167.1L54.8 174.6H15Z" fill="#fdec1f"/>
<text x="19.3" y="171.4" font-family='"Liberation Sans", sans-serif' font-weight="700" font-size="13.3" fill="#fff" textLength="8.3" lengthAdjust="spacingAndGlyphs">B</text>
<path d="M15 177.8H60.2L68.2 185.3L60.2 192.8H15Z" fill="#f8b123"/>
<text x="19.3" y="190.4" font-family='"Liberation Sans", sans-serif' font-weight="700" font-size="13.3" fill="#fff" textLength="8.3" lengthAdjust="spacingAndGlyphs">C</text>
<path d="M15 196H65.6L73.6 203.5L65.6 211H15Z" fill="#ed7428"/>
<text x="19.3" y="208.4" font-family='"Liberation Sans", sans-serif' font-weight="700" font-size="13.3" fill="#fff" textLength="8.3" lengthAdjust="spacingAndGlyphs">D</text>
<path d="M15 214.2H71L79 221.7L71 229.2H15Z" fill="#e4232b"/>
<text x="19.3" y="226.4" font-family='"Liberation Sans", sans-serif' font-weight="700" font-size="13.3" fill="#fff" textLength="8.3" lengthAdjust="spacingAndGlyphs">E</text>
<path d="M81 103.5C91 104.5 97.3 109 97.3 119V151C97.3 159 101 164.5 106.2 166.3C101 168 97.3 173.5 97.3 181.5V214C97.3 224 91 228.5 81.5 229.5C87 227 90.4 222 90.4 213V181C90.4 174 92 169 94 166.3C92 163.5 90.4 159 90.4 152V120C90.4 111 87 106 81 103.5Z" fill="#4a8fc6"/>
<g transform="translate(115.5 159.2) rotate(-51.5)">
<path d="M-3.1 15.2C-3.1 10.5 -7 6.2 -7 0A7 7.2 0 0 1 7 0C7 6.2 3.1 10.5 3.1 15.2Z" fill="#fff" stroke="#8b98a4" stroke-width="1.05"/>
<path d="M-3.3 15H3.3V19H-3.3Z" fill="#3f88c4"/>
<path d="M-3.3 19H3.3V22.4H-3.3Z" fill="#a9d3ee"/>
<path d="M-2.6 22.4H2.6L1.6 24.4H-1.6Z" fill="#4a6f96"/>
</g>
<g font-family='"Liberation Sans", sans-serif' font-size="7.4" fill="#2c2c2c" stroke="#2c2c2c" stroke-width="0.28">
<text x="28.7" y="256.4" textLength="91.4" lengthAdjust="spacingAndGlyphs">Armaturen säljs med en lampa av</text>
<text x="28.7" y="265.4" textLength="37.5" lengthAdjust="spacingAndGlyphs">energiklassen:</text>
</g>
<path d="M98 261.5H125.6L130 267.4L125.6 273.3H98Z" fill="#ee7a2c"/>
<text x="102.6" y="271.4" font-family='"Liberation Sans", sans-serif' font-weight="700" font-size="12.2" fill="#fff">D</text>
<text x="17.6" y="307.4" font-family='"Liberation Sans", sans-serif' font-weight="700" font-size="9.8" fill="#111" stroke="#111" stroke-width="0.25" textLength="35.6" lengthAdjust="spacingAndGlyphs">874/2012</text>
<rect x="116.2" y="293" width="22.3" height="16.2" fill="#3b2b5e"/>
<circle cx="127.35" cy="296" r="0.8" fill="#e3cf8e"/>
<circle cx="129.95" cy="296.7" r="0.8" fill="#e3cf8e"/>
<circle cx="131.85" cy="298.6" r="0.8" fill="#e3cf8e"/>
<circle cx="132.55" cy="301.2" r="0.8" fill="#e3cf8e"/>
<circle cx="131.85" cy="303.8" r="0.8" fill="#e3cf8e"/>
<circle cx="129.95" cy="305.7" r="0.8" fill="#e3cf8e"/>
<circle cx="127.35" cy="306.4" r="0.8" fill="#e3cf8e"/>
<circle cx="124.75" cy="305.7" r="0.8" fill="#e3cf8e"/>
<circle cx="122.85" cy="303.8" r="0.8" fill="#e3cf8e"/>
<circle cx="122.15" cy="301.2" r="0.8" fill="#e3cf8e"/>
<circle cx="122.85" cy="298.6" r="0.8" fill="#e3cf8e"/>
<circle cx="124.75" cy="296.7" r="0.8" fill="#e3cf8e"/>
</g>
<g transform="translate(722.5 320.6)">
<rect x="6.3" y="4.5" width="144" height="311.1" rx="4" fill="#fff" stroke="#487aa5" stroke-width="2"/>
<rect x="7.9" y="6.1" width="140.8" height="307.9" rx="2.8" fill="none" stroke="#dcf2fd" stroke-width="1.3"/>
<g font-family='"Liberation Sans", sans-serif' font-weight="700" font-style="italic" fill="#111">
<text x="19.5" y="19.4" font-size="7.3" textLength="17.4" lengthAdjust="spacingAndGlyphs" stroke="#111" stroke-width="0.3">vida</text>
<ellipse cx="43.1" cy="16.9" rx="6.1" ry="6.5" fill="#111"/>
<text y="20.4" font-style="normal" fill="#fff" stroke="#fff" stroke-width="0.25"><tspan x="37.5" font-size="9.6" textLength="6.6" lengthAdjust="spacingAndGlyphs">X</tspan><tspan x="44.4" y="21.4" font-size="15" textLength="4.6" lengthAdjust="spacingAndGlyphs">L</tspan></text>
<text x="48.9" y="22.4" font-size="7.1" textLength="16.3" lengthAdjust="spacingAndGlyphs" stroke="#111" stroke-width="0.3">.com</text>
</g>
<text x="87.8" y="25.4" font-family='"Liberation Sans", sans-serif' font-size="13" fill="#222" stroke="#222" stroke-width="0.25" textLength="41.6" lengthAdjust="spacingAndGlyphs">241491</text>
<rect x="17.4" y="33.1" width="121.2" height="1.7" fill="#6b8fa9"/>
<rect x="17" y="244.3" width="121.3" height="1.6" fill="#3f97c2"/>
<rect x="14.8" y="42.5" width="36.5" height="45.5" rx="2.8" fill="#fff" stroke="#6289a8" stroke-width="1.15"/>
<rect x="17" y="51.4" width="31.6" height="3.8" fill="#f4f6f7" stroke="#c9d2d8" stroke-width="0.6"/>
<rect x="30.5" y="51.9" width="4.5" height="1.2" fill="#6fd0ee"/>
<rect x="20.2" y="55.2" width="25.2" height="17.2" fill="#39b4e0"/>
<rect x="21.8" y="72.2" width="22" height="1.4" fill="#39b4e0"/>
<circle cx="23.1" cy="73.5" r="1.45" fill="#39b4e0"/>
<circle cx="25.87" cy="73.5" r="1.45" fill="#39b4e0"/>
<circle cx="28.64" cy="73.5" r="1.45" fill="#39b4e0"/>
<circle cx="31.41" cy="73.5" r="1.45" fill="#39b4e0"/>
<circle cx="34.18" cy="73.5" r="1.45" fill="#39b4e0"/>
<circle cx="36.95" cy="73.5" r="1.45" fill="#39b4e0"/>
<circle cx="39.72" cy="73.5" r="1.45" fill="#39b4e0"/>
<circle cx="42.49" cy="73.5" r="1.45" fill="#39b4e0"/>
<rect x="22.6" y="56" width="1.3" height="16.5" fill="#93e3fb"/>
<rect x="25.95" y="56" width="1.3" height="16.5" fill="#93e3fb"/>
<rect x="29.3" y="56" width="1.3" height="16.5" fill="#93e3fb"/>
<rect x="32.65" y="56" width="1.3" height="16.5" fill="#93e3fb"/>
<rect x="36" y="56" width="1.3" height="16.5" fill="#93e3fb"/>
<rect x="39.35" y="56" width="1.3" height="16.5" fill="#93e3fb"/>
<rect x="42.7" y="56" width="1.3" height="16.5" fill="#93e3fb"/>
<rect x="20.2" y="55.2" width="1.6" height="17" fill="#a5dcf0"/>
<rect x="43.8" y="55.2" width="1.6" height="17" fill="#a5dcf0"/>
<g font-family='"Liberation Sans", sans-serif' font-size="7.4" fill="#2c2c2c" stroke="#2c2c2c" stroke-width="0.28">
<text x="60.6" y="52.4" textLength="81.5" lengthAdjust="spacingAndGlyphs">Esta luminaria es compatible</text>
<text x="60.6" y="60.4" textLength="86.7" lengthAdjust="spacingAndGlyphs">con las bombillas de las clases</text>
<text x="60.6" y="68.4" textLength="37.7" lengthAdjust="spacingAndGlyphs">de la energía:</text>
</g>
<path d="M15 105H38.5L46.5 112.5L38.5 120H15Z" fill="#0f9447"/>
<text x="18.9" y="117.4" font-family='"Liberation Sans", sans-serif' font-weight="700" font-size="13.3" fill="#fff">A<tspan font-size="9.2" dy="-4.5" dx="0.3" stroke="#fff" stroke-width="0.3">++</tspan></text>
<path d="M15 123.2H43.8L51.8 130.7L43.8 138.2H15Z" fill="#52a834"/>
<text x="18.9" y="135.4" font-family='"Liberation Sans", sans-serif' font-weight="700" font-size="13.3" fill="#fff">A<tspan font-size="9.2" dy="-4.5" dx="0.3" stroke="#fff" stroke-width="0.3">+</tspan></text>
<path d="M15 141.4H49.3L57.3 148.9L49.3 156.4H15Z" fill="#b7cd2f"/>
<text x="18.9" y="153.4" font-family='"Liberation Sans", sans-serif' font-weight="700" font-size="13.3" fill="#fff">A</text>
<path d="M15 159.6H54.8L62.8 167.1L54.8 174.6H15Z" fill="#fdec1f"/>
<text x="19.3" y="171.4" font-family='"Liberation Sans", sans-serif' font-weight="700" font-size="13.3" fill="#fff" textLength="8.3" lengthAdjust="spacingAndGlyphs">B</text>
<path d="M15 177.8H60.2L68.2 185.3L60.2 192.8H15Z" fill="#f8b123"/>
<text x="19.3" y="190.4" font-family='"Liberation Sans", sans-serif' font-weight="700" font-size="13.3" fill="#fff" textLength="8.3" lengthAdjust="spacingAndGlyphs">C</text>
<path d="M15 196H65.6L73.6 203.5L65.6 211H15Z" fill="#ed7428"/>
<text x="19.3" y="208.4" font-family='"Liberation Sans", sans-serif' font-weight="700" font-size="13.3" fill="#fff" textLength="8.3" lengthAdjust="spacingAndGlyphs">D</text>
<path d="M15 214.2H71L79 221.7L71 229.2H15Z" fill="#e4232b"/>
<text x="19.3" y="226.4" font-family='"Liberation Sans", sans-serif' font-weight="700" font-size="13.3" fill="#fff" textLength="8.3" lengthAdjust="spacingAndGlyphs">E</text>
<path d="M81 103.5C91 104.5 97.3 109 97.3 119V151C97.3 159 101 164.5 106.2 166.3C101 168 97.3 173.5 97.3 181.5V214C97.3 224 91 228.5 81.5 229.5C87 227 90.4 222 90.4 213V181C90.4 174 92 169 94 166.3C92 163.5 90.4 159 90.4 152V120C90.4 111 87 106 81 103.5Z" fill="#4a8fc6"/>
<g transform="translate(115.5 159.2) rotate(-51.5)">
<path d="M-3.1 15.2C-3.1 10.5 -7 6.2 -7 0A7 7.2 0 0 1 7 0C7 6.2 3.1 10.5 3.1 15.2Z" fill="#fff" stroke="#8b98a4" stroke-width="1.05"/>
<path d="M-3.3 15H3.3V19H-3.3Z" fill="#3f88c4"/>
<path d="M-3.3 19H3.3V22.4H-3.3Z" fill="#a9d3ee"/>
<path d="M-2.6 22.4H2.6L1.6 24.4H-1.6Z" fill="#4a6f96"/>
</g>
<g font-family='"Liberation Sans", sans-serif' font-size="7.4" fill="#2c2c2c" stroke="#2c2c2c" stroke-width="0.28">
<text x="28.6" y="256.4" textLength="112.8" lengthAdjust="spacingAndGlyphs">La luminaria se vende con una lámpara de</text>
<text x="28.6" y="265.4" textLength="50.65" lengthAdjust="spacingAndGlyphs">la clase de energía:</text>
</g>
<path d="M97.5 261.5H125.3L129.7 267.4L125.3 273.3H97.5Z" fill="#ee7a2c"/>
<text x="102.1" y="271.4" font-family='"Liberation Sans", sans-serif' font-weight="700" font-size="12.2" fill="#fff">D</text>
<text x="17.6" y="307.4" font-family='"Liberation Sans", sans-serif' font-weight="700" font-size="9.8" fill="#111" stroke="#111" stroke-width="0.25" textLength="35.6" lengthAdjust="spacingAndGlyphs">874/2012</text>
<rect x="116.2" y="293" width="22.3" height="16.2" fill="#3b2b5e"/>
<circle cx="127.35" cy="296" r="0.8" fill="#e3cf8e"/>
<circle cx="129.95" cy="296.7" r="0.8" fill="#e3cf8e"/>
<circle cx="131.85" cy="298.6" r="0.8" fill="#e3cf8e"/>
<circle cx="132.55" cy="301.2" r="0.8" fill="#e3cf8e"/>
<circle cx="131.85" cy="303.8" r="0.8" fill="#e3cf8e"/>
<circle cx="129.95" cy="305.7" r="0.8" fill="#e3cf8e"/>
<circle cx="127.35" cy="306.4" r="0.8" fill="#e3cf8e"/>
<circle cx="124.75" cy="305.7" r="0.8" fill="#e3cf8e"/>
<circle cx="122.85" cy="303.8" r="0.8" fill="#e3cf8e"/>
<circle cx="122.15" cy="301.2" r="0.8" fill="#e3cf8e"/>
<circle cx="122.85" cy="298.6" r="0.8" fill="#e3cf8e"/>
<circle cx="124.75" cy="296.7" r="0.8" fill="#e3cf8e"/>
</g>
<g transform="translate(0 640.6)">
<rect x="6.3" y="4.5" width="144" height="311.1" rx="4" fill="#fff" stroke="#487aa5" stroke-width="2"/>
<rect x="7.9" y="6.1" width="140.8" height="307.9" rx="2.8" fill="none" stroke="#dcf2fd" stroke-width="1.3"/>
<g font-family='"Liberation Sans", sans-serif' font-weight="700" font-style="italic" fill="#111">
<text x="19.5" y="19.4" font-size="7.3" textLength="17.4" lengthAdjust="spacingAndGlyphs" stroke="#111" stroke-width="0.3">vida</text>
<ellipse cx="43.1" cy="16.9" rx="6.1" ry="6.5" fill="#111"/>
<text y="20.4" font-style="normal" fill="#fff" stroke="#fff" stroke-width="0.25"><tspan x="37.5" font-size="9.6" textLength="6.6" lengthAdjust="spacingAndGlyphs">X</tspan><tspan x="44.4" y="21.4" font-size="15" textLength="4.6" lengthAdjust="spacingAndGlyphs">L</tspan></text>
<text x="48.9" y="22.4" font-size="7.1" textLength="16.3" lengthAdjust="spacingAndGlyphs" stroke="#111" stroke-width="0.3">.com</text>
</g>
<text x="87.8" y="25.4" font-family='"Liberation Sans", sans-serif' font-size="13" fill="#222" stroke="#222" stroke-width="0.25" textLength="41.6" lengthAdjust="spacingAndGlyphs">241491</text>
<rect x="17.4" y="33.1" width="121.2" height="1.7" fill="#6b8fa9"/>
<rect x="17" y="244.3" width="121.3" height="1.6" fill="#3f97c2"/>
<rect x="14.8" y="42.5" width="36.5" height="45.5" rx="2.8" fill="#fff" stroke="#6289a8" stroke-width="1.15"/>
<rect x="17" y="51.4" width="31.6" height="3.8" fill="#f4f6f7" stroke="#c9d2d8" stroke-width="0.6"/>
<rect x="30.5" y="51.9" width="4.5" height="1.2" fill="#6fd0ee"/>
<rect x="20.2" y="55.2" width="25.2" height="17.2" fill="#39b4e0"/>
<rect x="21.8" y="72.2" width="22" height="1.4" fill="#39b4e0"/>
<circle cx="23.1" cy="73.5" r="1.45" fill="#39b4e0"/>
<circle cx="25.87" cy="73.5" r="1.45" fill="#39b4e0"/>
<circle cx="28.64" cy="73.5" r="1.45" fill="#39b4e0"/>
<circle cx="31.41" cy="73.5" r="1.45" fill="#39b4e0"/>
<circle cx="34.18" cy="73.5" r="1.45" fill="#39b4e0"/>
<circle cx="36.95" cy="73.5" r="1.45" fill="#39b4e0"/>
<circle cx="39.72" cy="73.5" r="1.45" fill="#39b4e0"/>
<circle cx="42.49" cy="73.5" r="1.45" fill="#39b4e0"/>
<rect x="22.6" y="56" width="1.3" height="16.5" fill="#93e3fb"/>
<rect x="25.95" y="56" width="1.3" height="16.5" fill="#93e3fb"/>
<rect x="29.3" y="56" width="1.3" height="16.5" fill="#93e3fb"/>
<rect x="32.65" y="56" width="1.3" height="16.5" fill="#93e3fb"/>
<rect x="36" y="56" width="1.3" height="16.5" fill="#93e3fb"/>
<rect x="39.35" y="56" width="1.3" height="16.5" fill="#93e3fb"/>
<rect x="42.7" y="56" width="1.3" height="16.5" fill="#93e3fb"/>
<rect x="20.2" y="55.2" width="1.6" height="17" fill="#a5dcf0"/>
<rect x="43.8" y="55.2" width="1.6" height="17" fill="#a5dcf0"/>
<g font-family='"Liberation Sans", sans-serif' font-size="7.4" fill="#2c2c2c" stroke="#2c2c2c" stroke-width="0.28">
<text x="60.7" y="51.4" textLength="85.1" lengthAdjust="spacingAndGlyphs">Esta luminária é compatível com</text>
<text x="60.7" y="59.4" textLength="78.2" lengthAdjust="spacingAndGlyphs">bulbos das classes de energia:</text>
</g>
<path d="M15 105H38.5L46.5 112.5L38.5 120H15Z" fill="#0f9447"/>
<text x="18.9" y="117.4" font-family='"Liberation Sans", sans-serif' font-weight="700" font-size="13.3" fill="#fff">A<tspan font-size="9.2" dy="-4.5" dx="0.3" stroke="#fff" stroke-width="0.3">++</tspan></text>
<path d="M15 123.2H43.8L51.8 130.7L43.8 138.2H15Z" fill="#52a834"/>
<text x="18.9" y="135.4" font-family='"Liberation Sans", sans-serif' font-weight="700" font-size="13.3" fill="#fff">A<tspan font-size="9.2" dy="-4.5" dx="0.3" stroke="#fff" stroke-width="0.3">+</tspan></text>
<path d="M15 141.4H49.3L57.3 148.9L49.3 156.4H15Z" fill="#b7cd2f"/>
<text x="18.9" y="153.4" font-family='"Liberation Sans", sans-serif' font-weight="700" font-size="13.3" fill="#fff">A</text>
<path d="M15 159.6H54.8L62.8 167.1L54.8 174.6H15Z" fill="#fdec1f"/>
<text x="19.3" y="171.4" font-family='"Liberation Sans", sans-serif' font-weight="700" font-size="13.3" fill="#fff" textLength="8.3" lengthAdjust="spacingAndGlyphs">B</text>
<path d="M15 177.8H60.2L68.2 185.3L60.2 192.8H15Z" fill="#f8b123"/>
<text x="19.3" y="190.4" font-family='"Liberation Sans", sans-serif' font-weight="700" font-size="13.3" fill="#fff" textLength="8.3" lengthAdjust="spacingAndGlyphs">C</text>
<path d="M15 196H65.6L73.6 203.5L65.6 211H15Z" fill="#ed7428"/>
<text x="19.3" y="208.4" font-family='"Liberation Sans", sans-serif' font-weight="700" font-size="13.3" fill="#fff" textLength="8.3" lengthAdjust="spacingAndGlyphs">D</text>
<path d="M15 214.2H71L79 221.7L71 229.2H15Z" fill="#e4232b"/>
<text x="19.3" y="226.4" font-family='"Liberation Sans", sans-serif' font-weight="700" font-size="13.3" fill="#fff" textLength="8.3" lengthAdjust="spacingAndGlyphs">E</text>
<path d="M81 103.5C91 104.5 97.3 109 97.3 119V151C97.3 159 101 164.5 106.2 166.3C101 168 97.3 173.5 97.3 181.5V214C97.3 224 91 228.5 81.5 229.5C87 227 90.4 222 90.4 213V181C90.4 174 92 169 94 166.3C92 163.5 90.4 159 90.4 152V120C90.4 111 87 106 81 103.5Z" fill="#4a8fc6"/>
<g transform="translate(115.5 159.2) rotate(-51.5)">
<path d="M-3.1 15.2C-3.1 10.5 -7 6.2 -7 0A7 7.2 0 0 1 7 0C7 6.2 3.1 10.5 3.1 15.2Z" fill="#fff" stroke="#8b98a4" stroke-width="1.05"/>
<path d="M-3.3 15H3.3V19H-3.3Z" fill="#3f88c4"/>
<path d="M-3.3 19H3.3V22.4H-3.3Z" fill="#a9d3ee"/>
<path d="M-2.6 22.4H2.6L1.6 24.4H-1.6Z" fill="#4a6f96"/>
</g>
<g font-family='"Liberation Sans", sans-serif' font-size="7.4" fill="#2c2c2c" stroke="#2c2c2c" stroke-width="0.28">
<text x="28.7" y="256.4" textLength="112.3" lengthAdjust="spacingAndGlyphs">A luminária é vendido com uma lâmpada</text>
<text x="28.7" y="265.4" textLength="57.1" lengthAdjust="spacingAndGlyphs">da classe de eficiência</text>
<text x="28.7" y="274.4" textLength="28.7" lengthAdjust="spacingAndGlyphs">energética:</text>
</g>
<path d="M97.5 261.5H125.2L129.6 267.4L125.2 273.3H97.5Z" fill="#ee7a2c"/>
<text x="102.1" y="271.4" font-family='"Liberation Sans", sans-serif' font-weight="700" font-size="12.2" fill="#fff">D</text>
<text x="17.6" y="307.4" font-family='"Liberation Sans", sans-serif' font-weight="700" font-size="9.8" fill="#111" stroke="#111" stroke-width="0.25" textLength="35.6" lengthAdjust="spacingAndGlyphs">874/2012</text>
<rect x="116.2" y="293" width="22.3" height="16.2" fill="#3b2b5e"/>
<circle cx="127.35" cy="296" r="0.8" fill="#e3cf8e"/>
<circle cx="129.95" cy="296.7" r="0.8" fill="#e3cf8e"/>
<circle cx="131.85" cy="298.6" r="0.8" fill="#e3cf8e"/>
<circle cx="132.55" cy="301.2" r="0.8" fill="#e3cf8e"/>
<circle cx="131.85" cy="303.8" r="0.8" fill="#e3cf8e"/>
<circle cx="129.95" cy="305.7" r="0.8" fill="#e3cf8e"/>
<circle cx="127.35" cy="306.4" r="0.8" fill="#e3cf8e"/>
<circle cx="124.75" cy="305.7" r="0.8" fill="#e3cf8e"/>
<circle cx="122.85" cy="303.8" r="0.8" fill="#e3cf8e"/>
<circle cx="122.15" cy="301.2" r="0.8" fill="#e3cf8e"/>
<circle cx="122.85" cy="298.6" r="0.8" fill="#e3cf8e"/>
<circle cx="124.75" cy="296.7" r="0.8" fill="#e3cf8e"/>
</g>
<g transform="translate(241.6 640.6)">
<rect x="6.3" y="4.5" width="144" height="311.1" rx="4" fill="#fff" stroke="#487aa5" stroke-width="2"/>
<rect x="7.9" y="6.1" width="140.8" height="307.9" rx="2.8" fill="none" stroke="#dcf2fd" stroke-width="1.3"/>
<g font-family='"Liberation Sans", sans-serif' font-weight="700" font-style="italic" fill="#111">
<text x="19.5" y="19.4" font-size="7.3" textLength="17.4" lengthAdjust="spacingAndGlyphs" stroke="#111" stroke-width="0.3">vida</text>
<ellipse cx="43.1" cy="16.9" rx="6.1" ry="6.5" fill="#111"/>
<text y="20.4" font-style="normal" fill="#fff" stroke="#fff" stroke-width="0.25"><tspan x="37.5" font-size="9.6" textLength="6.6" lengthAdjust="spacingAndGlyphs">X</tspan><tspan x="44.4" y="21.4" font-size="15" textLength="4.6" lengthAdjust="spacingAndGlyphs">L</tspan></text>
<text x="48.9" y="22.4" font-size="7.1" textLength="16.3" lengthAdjust="spacingAndGlyphs" stroke="#111" stroke-width="0.3">.com</text>
</g>
<text x="87.8" y="25.4" font-family='"Liberation Sans", sans-serif' font-size="13" fill="#222" stroke="#222" stroke-width="0.25" textLength="41.6" lengthAdjust="spacingAndGlyphs">241491</text>
<rect x="17.4" y="33.1" width="121.2" height="1.7" fill="#6b8fa9"/>
<rect x="17" y="244.3" width="121.3" height="1.6" fill="#3f97c2"/>
<rect x="14.8" y="42.5" width="36.5" height="45.5" rx="2.8" fill="#fff" stroke="#6289a8" stroke-width="1.15"/>
<rect x="17" y="51.4" width="31.6" height="3.8" fill="#f4f6f7" stroke="#c9d2d8" stroke-width="0.6"/>
<rect x="30.5" y="51.9" width="4.5" height="1.2" fill="#6fd0ee"/>
<rect x="20.2" y="55.2" width="25.2" height="17.2" fill="#39b4e0"/>
<rect x="21.8" y="72.2" width="22" height="1.4" fill="#39b4e0"/>
<circle cx="23.1" cy="73.5" r="1.45" fill="#39b4e0"/>
<circle cx="25.87" cy="73.5" r="1.45" fill="#39b4e0"/>
<circle cx="28.64" cy="73.5" r="1.45" fill="#39b4e0"/>
<circle cx="31.41" cy="73.5" r="1.45" fill="#39b4e0"/>
<circle cx="34.18" cy="73.5" r="1.45" fill="#39b4e0"/>
<circle cx="36.95" cy="73.5" r="1.45" fill="#39b4e0"/>
<circle cx="39.72" cy="73.5" r="1.45" fill="#39b4e0"/>
<circle cx="42.49" cy="73.5" r="1.45" fill="#39b4e0"/>
<rect x="22.6" y="56" width="1.3" height="16.5" fill="#93e3fb"/>
<rect x="25.95" y="56" width="1.3" height="16.5" fill="#93e3fb"/>
<rect x="29.3" y="56" width="1.3" height="16.5" fill="#93e3fb"/>
<rect x="32.65" y="56" width="1.3" height="16.5" fill="#93e3fb"/>
<rect x="36" y="56" width="1.3" height="16.5" fill="#93e3fb"/>
<rect x="39.35" y="56" width="1.3" height="16.5" fill="#93e3fb"/>
<rect x="42.7" y="56" width="1.3" height="16.5" fill="#93e3fb"/>
<rect x="20.2" y="55.2" width="1.6" height="17" fill="#a5dcf0"/>
<rect x="43.8" y="55.2" width="1.6" height="17" fill="#a5dcf0"/>
<g font-family='"Liberation Sans", sans-serif' font-size="7.4" fill="#2c2c2c" stroke="#2c2c2c" stroke-width="0.28">
<text x="60.7" y="51.4" textLength="75.5" lengthAdjust="spacingAndGlyphs">Αυτό το φωτιστικό είναι</text>
<text x="60.7" y="60.4" textLength="87.5" lengthAdjust="spacingAndGlyphs">συμβατό με λάμπες ενεργειακής</text>
<text x="60.7" y="68.4" textLength="23.4" lengthAdjust="spacingAndGlyphs">κλάσης:</text>
</g>
<path d="M15 105H38.5L46.5 112.5L38.5 120H15Z" fill="#0f9447"/>
<text x="18.9" y="117.4" font-family='"Liberation Sans", sans-serif' font-weight="700" font-size="13.3" fill="#fff">A<tspan font-size="9.2" dy="-4.5" dx="0.3" stroke="#fff" stroke-width="0.3">++</tspan></text>
<path d="M15 123.2H43.8L51.8 130.7L43.8 138.2H15Z" fill="#52a834"/>
<text x="18.9" y="135.4" font-family='"Liberation Sans", sans-serif' font-weight="700" font-size="13.3" fill="#fff">A<tspan font-size="9.2" dy="-4.5" dx="0.3" stroke="#fff" stroke-width="0.3">+</tspan></text>
<path d="M15 141.4H49.3L57.3 148.9L49.3 156.4H15Z" fill="#b7cd2f"/>
<text x="18.9" y="153.4" font-family='"Liberation Sans", sans-serif' font-weight="700" font-size="13.3" fill="#fff">A</text>
<path d="M15 159.6H54.8L62.8 167.1L54.8 174.6H15Z" fill="#fdec1f"/>
<text x="19.3" y="171.4" font-family='"Liberation Sans", sans-serif' font-weight="700" font-size="13.3" fill="#fff" textLength="8.3" lengthAdjust="spacingAndGlyphs">B</text>
<path d="M15 177.8H60.2L68.2 185.3L60.2 192.8H15Z" fill="#f8b123"/>
<text x="19.3" y="190.4" font-family='"Liberation Sans", sans-serif' font-weight="700" font-size="13.3" fill="#fff" textLength="8.3" lengthAdjust="spacingAndGlyphs">C</text>
<path d="M15 196H65.6L73.6 203.5L65.6 211H15Z" fill="#ed7428"/>
<text x="19.3" y="208.4" font-family='"Liberation Sans", sans-serif' font-weight="700" font-size="13.3" fill="#fff" textLength="8.3" lengthAdjust="spacingAndGlyphs">D</text>
<path d="M15 214.2H71L79 221.7L71 229.2H15Z" fill="#e4232b"/>
<text x="19.3" y="226.4" font-family='"Liberation Sans", sans-serif' font-weight="700" font-size="13.3" fill="#fff" textLength="8.3" lengthAdjust="spacingAndGlyphs">E</text>
<path d="M81 103.5C91 104.5 97.3 109 97.3 119V151C97.3 159 101 164.5 106.2 166.3C101 168 97.3 173.5 97.3 181.5V214C97.3 224 91 228.5 81.5 229.5C87 227 90.4 222 90.4 213V181C90.4 174 92 169 94 166.3C92 163.5 90.4 159 90.4 152V120C90.4 111 87 106 81 103.5Z" fill="#4a8fc6"/>
<g transform="translate(115.5 159.2) rotate(-51.5)">
<path d="M-3.1 15.2C-3.1 10.5 -7 6.2 -7 0A7 7.2 0 0 1 7 0C7 6.2 3.1 10.5 3.1 15.2Z" fill="#fff" stroke="#8b98a4" stroke-width="1.05"/>
<path d="M-3.3 15H3.3V19H-3.3Z" fill="#3f88c4"/>
<path d="M-3.3 19H3.3V22.4H-3.3Z" fill="#a9d3ee"/>
<path d="M-2.6 22.4H2.6L1.6 24.4H-1.6Z" fill="#4a6f96"/>
</g>
<g font-family='"Liberation Sans", sans-serif' font-size="7.4" fill="#2c2c2c" stroke="#2c2c2c" stroke-width="0.28">
<text x="28.8" y="256.4" textLength="109.4" lengthAdjust="spacingAndGlyphs">Αυτό το φωτιστικό πωλείται με λάμπες</text>
<text x="28.8" y="265.4" textLength="56.2" lengthAdjust="spacingAndGlyphs">ενεργειακής κλάσης</text>
</g>
<path d="M97.65 261.5H125.3L129.7 267.4L125.3 273.3H97.65Z" fill="#ee7a2c"/>
<text x="102.25" y="271.4" font-family='"Liberation Sans", sans-serif' font-weight="700" font-size="12.2" fill="#fff">D</text>
<text x="17.6" y="307.4" font-family='"Liberation Sans", sans-serif' font-weight="700" font-size="9.8" fill="#111" stroke="#111" stroke-width="0.25" textLength="35.6" lengthAdjust="spacingAndGlyphs">874/2012</text>
<rect x="116.2" y="293" width="22.3" height="16.2" fill="#3b2b5e"/>
<circle cx="127.35" cy="296" r="0.8" fill="#e3cf8e"/>
<circle cx="129.95" cy="296.7" r="0.8" fill="#e3cf8e"/>
<circle cx="131.85" cy="298.6" r="0.8" fill="#e3cf8e"/>
<circle cx="132.55" cy="301.2" r="0.8" fill="#e3cf8e"/>
<circle cx="131.85" cy="303.8" r="0.8" fill="#e3cf8e"/>
<circle cx="129.95" cy="305.7" r="0.8" fill="#e3cf8e"/>
<circle cx="127.35" cy="306.4" r="0.8" fill="#e3cf8e"/>
<circle cx="124.75" cy="305.7" r="0.8" fill="#e3cf8e"/>
<circle cx="122.85" cy="303.8" r="0.8" fill="#e3cf8e"/>
<circle cx="122.15" cy="301.2" r="0.8" fill="#e3cf8e"/>
<circle cx="122.85" cy="298.6" r="0.8" fill="#e3cf8e"/>
<circle cx="124.75" cy="296.7" r="0.8" fill="#e3cf8e"/>
</g>
<g transform="translate(481.6 640.6)">
<rect x="6.3" y="4.5" width="144" height="311.1" rx="4" fill="#fff" stroke="#487aa5" stroke-width="2"/>
<rect x="7.9" y="6.1" width="140.8" height="307.9" rx="2.8" fill="none" stroke="#dcf2fd" stroke-width="1.3"/>
<g font-family='"Liberation Sans", sans-serif' font-weight="700" font-style="italic" fill="#111">
<text x="19.5" y="19.4" font-size="7.3" textLength="17.4" lengthAdjust="spacingAndGlyphs" stroke="#111" stroke-width="0.3">vida</text>
<ellipse cx="43.1" cy="16.9" rx="6.1" ry="6.5" fill="#111"/>
<text y="20.4" font-style="normal" fill="#fff" stroke="#fff" stroke-width="0.25"><tspan x="37.5" font-size="9.6" textLength="6.6" lengthAdjust="spacingAndGlyphs">X</tspan><tspan x="44.4" y="21.4" font-size="15" textLength="4.6" lengthAdjust="spacingAndGlyphs">L</tspan></text>
<text x="48.9" y="22.4" font-size="7.1" textLength="16.3" lengthAdjust="spacingAndGlyphs" stroke="#111" stroke-width="0.3">.com</text>
</g>
<text x="87.8" y="25.4" font-family='"Liberation Sans", sans-serif' font-size="13" fill="#222" stroke="#222" stroke-width="0.25" textLength="41.6" lengthAdjust="spacingAndGlyphs">241491</text>
<rect x="17.4" y="33.1" width="121.2" height="1.7" fill="#6b8fa9"/>
<rect x="17" y="244.3" width="121.3" height="1.6" fill="#3f97c2"/>
<rect x="14.8" y="42.5" width="36.5" height="45.5" rx="2.8" fill="#fff" stroke="#6289a8" stroke-width="1.15"/>
<rect x="17" y="51.4" width="31.6" height="3.8" fill="#f4f6f7" stroke="#c9d2d8" stroke-width="0.6"/>
<rect x="30.5" y="51.9" width="4.5" height="1.2" fill="#6fd0ee"/>
<rect x="20.2" y="55.2" width="25.2" height="17.2" fill="#39b4e0"/>
<rect x="21.8" y="72.2" width="22" height="1.4" fill="#39b4e0"/>
<circle cx="23.1" cy="73.5" r="1.45" fill="#39b4e0"/>
<circle cx="25.87" cy="73.5" r="1.45" fill="#39b4e0"/>
<circle cx="28.64" cy="73.5" r="1.45" fill="#39b4e0"/>
<circle cx="31.41" cy="73.5" r="1.45" fill="#39b4e0"/>
<circle cx="34.18" cy="73.5" r="1.45" fill="#39b4e0"/>
<circle cx="36.95" cy="73.5" r="1.45" fill="#39b4e0"/>
<circle cx="39.72" cy="73.5" r="1.45" fill="#39b4e0"/>
<circle cx="42.49" cy="73.5" r="1.45" fill="#39b4e0"/>
<rect x="22.6" y="56" width="1.3" height="16.5" fill="#93e3fb"/>
<rect x="25.95" y="56" width="1.3" height="16.5" fill="#93e3fb"/>
<rect x="29.3" y="56" width="1.3" height="16.5" fill="#93e3fb"/>
<rect x="32.65" y="56" width="1.3" height="16.5" fill="#93e3fb"/>
<rect x="36" y="56" width="1.3" height="16.5" fill="#93e3fb"/>
<rect x="39.35" y="56" width="1.3" height="16.5" fill="#93e3fb"/>
<rect x="42.7" y="56" width="1.3" height="16.5" fill="#93e3fb"/>
<rect x="20.2" y="55.2" width="1.6" height="17" fill="#a5dcf0"/>
<rect x="43.8" y="55.2" width="1.6" height="17" fill="#a5dcf0"/>
<g font-family='"Liberation Sans", sans-serif' font-size="7.4" fill="#2c2c2c" stroke="#2c2c2c" stroke-width="0.28">
<text x="60.5" y="51.4" textLength="76.2" lengthAdjust="spacingAndGlyphs">Dette armatur er kompatibel</text>
<text x="60.5" y="60.4" textLength="64.8" lengthAdjust="spacingAndGlyphs">med løg af energiklasser:</text>
</g>
<path d="M15 105H38.5L46.5 112.5L38.5 120H15Z" fill="#0f9447"/>
<text x="18.9" y="117.4" font-family='"Liberation Sans", sans-serif' font-weight="700" font-size="13.3" fill="#fff">A<tspan font-size="9.2" dy="-4.5" dx="0.3" stroke="#fff" stroke-width="0.3">++</tspan></text>
<path d="M15 123.2H43.8L51.8 130.7L43.8 138.2H15Z" fill="#52a834"/>
<text x="18.9" y="135.4" font-family='"Liberation Sans", sans-serif' font-weight="700" font-size="13.3" fill="#fff">A<tspan font-size="9.2" dy="-4.5" dx="0.3" stroke="#fff" stroke-width="0.3">+</tspan></text>
<path d="M15 141.4H49.3L57.3 148.9L49.3 156.4H15Z" fill="#b7cd2f"/>
<text x="18.9" y="153.4" font-family='"Liberation Sans", sans-serif' font-weight="700" font-size="13.3" fill="#fff">A</text>
<path d="M15 159.6H54.8L62.8 167.1L54.8 174.6H15Z" fill="#fdec1f"/>
<text x="19.3" y="171.4" font-family='"Liberation Sans", sans-serif' font-weight="700" font-size="13.3" fill="#fff" textLength="8.3" lengthAdjust="spacingAndGlyphs">B</text>
<path d="M15 177.8H60.2L68.2 185.3L60.2 192.8H15Z" fill="#f8b123"/>
<text x="19.3" y="190.4" font-family='"Liberation Sans", sans-serif' font-weight="700" font-size="13.3" fill="#fff" textLength="8.3" lengthAdjust="spacingAndGlyphs">C</text>
<path d="M15 196H65.6L73.6 203.5L65.6 211H15Z" fill="#ed7428"/>
<text x="19.3" y="208.4" font-family='"Liberation Sans", sans-serif' font-weight="700" font-size="13.3" fill="#fff" textLength="8.3" lengthAdjust="spacingAndGlyphs">D</text>
<path d="M15 214.2H71L79 221.7L71 229.2H15Z" fill="#e4232b"/>
<text x="19.3" y="226.4" font-family='"Liberation Sans", sans-serif' font-weight="700" font-size="13.3" fill="#fff" textLength="8.3" lengthAdjust="spacingAndGlyphs">E</text>
<path d="M81 103.5C91 104.5 97.3 109 97.3 119V151C97.3 159 101 164.5 106.2 166.3C101 168 97.3 173.5 97.3 181.5V214C97.3 224 91 228.5 81.5 229.5C87 227 90.4 222 90.4 213V181C90.4 174 92 169 94 166.3C92 163.5 90.4 159 90.4 152V120C90.4 111 87 106 81 103.5Z" fill="#4a8fc6"/>
<g transform="translate(115.5 159.2) rotate(-51.5)">
<path d="M-3.1 15.2C-3.1 10.5 -7 6.2 -7 0A7 7.2 0 0 1 7 0C7 6.2 3.1 10.5 3.1 15.2Z" fill="#fff" stroke="#8b98a4" stroke-width="1.05"/>
<path d="M-3.3 15H3.3V19H-3.3Z" fill="#3f88c4"/>
<path d="M-3.3 19H3.3V22.4H-3.3Z" fill="#a9d3ee"/>
<path d="M-2.6 22.4H2.6L1.6 24.4H-1.6Z" fill="#4a6f96"/>
</g>
<g font-family='"Liberation Sans", sans-serif' font-size="7.4" fill="#2c2c2c" stroke="#2c2c2c" stroke-width="0.28">
<text x="28.8" y="256.4" textLength="92.6" lengthAdjust="spacingAndGlyphs">Armaturet sælges med en pære af</text>
<text x="28.8" y="265.4" textLength="34.3" lengthAdjust="spacingAndGlyphs">energiklasse:</text>
</g>
<path d="M97.65 261.5H125.3L129.7 267.4L125.3 273.3H97.65Z" fill="#ee7a2c"/>
<text x="102.25" y="271.4" font-family='"Liberation Sans", sans-serif' font-weight="700" font-size="12.2" fill="#fff">D</text>
<text x="17.6" y="307.4" font-family='"Liberation Sans", sans-serif' font-weight="700" font-size="9.8" fill="#111" stroke="#111" stroke-width="0.25" textLength="35.6" lengthAdjust="spacingAndGlyphs">874/2012</text>
<rect x="116.2" y="293" width="22.3" height="16.2" fill="#3b2b5e"/>
<circle cx="127.35" cy="296" r="0.8" fill="#e3cf8e"/>
<circle cx="129.95" cy="296.7" r="0.8" fill="#e3cf8e"/>
<circle cx="131.85" cy="298.6" r="0.8" fill="#e3cf8e"/>
<circle cx="132.55" cy="301.2" r="0.8" fill="#e3cf8e"/>
<circle cx="131.85" cy="303.8" r="0.8" fill="#e3cf8e"/>
<circle cx="129.95" cy="305.7" r="0.8" fill="#e3cf8e"/>
<circle cx="127.35" cy="306.4" r="0.8" fill="#e3cf8e"/>
<circle cx="124.75" cy="305.7" r="0.8" fill="#e3cf8e"/>
<circle cx="122.85" cy="303.8" r="0.8" fill="#e3cf8e"/>
<circle cx="122.15" cy="301.2" r="0.8" fill="#e3cf8e"/>
<circle cx="122.85" cy="298.6" r="0.8" fill="#e3cf8e"/>
<circle cx="124.75" cy="296.7" r="0.8" fill="#e3cf8e"/>
</g>
<g transform="translate(722.8 640.6)">
<rect x="6.3" y="4.5" width="144" height="311.1" rx="4" fill="#fff" stroke="#487aa5" stroke-width="2"/>
<rect x="7.9" y="6.1" width="140.8" height="307.9" rx="2.8" fill="none" stroke="#dcf2fd" stroke-width="1.3"/>
<g font-family='"Liberation Sans", sans-serif' font-weight="700" font-style="italic" fill="#111">
<text x="19.5" y="19.4" font-size="7.3" textLength="17.4" lengthAdjust="spacingAndGlyphs" stroke="#111" stroke-width="0.3">vida</text>
<ellipse cx="43.1" cy="16.9" rx="6.1" ry="6.5" fill="#111"/>
<text y="20.4" font-style="normal" fill="#fff" stroke="#fff" stroke-width="0.25"><tspan x="37.5" font-size="9.6" textLength="6.6" lengthAdjust="spacingAndGlyphs">X</tspan><tspan x="44.4" y="21.4" font-size="15" textLength="4.6" lengthAdjust="spacingAndGlyphs">L</tspan></text>
<text x="48.9" y="22.4" font-size="7.1" textLength="16.3" lengthAdjust="spacingAndGlyphs" stroke="#111" stroke-width="0.3">.com</text>
</g>
<text x="87.8" y="25.4" font-family='"Liberation Sans", sans-serif' font-size="13" fill="#222" stroke="#222" stroke-width="0.25" textLength="41.6" lengthAdjust="spacingAndGlyphs">241491</text>
<rect x="17.4" y="33.1" width="121.2" height="1.7" fill="#6b8fa9"/>
<rect x="17" y="244.3" width="121.3" height="1.6" fill="#3f97c2"/>
<rect x="14.8" y="42.5" width="36.5" height="45.5" rx="2.8" fill="#fff" stroke="#6289a8" stroke-width="1.15"/>
<rect x="17" y="51.4" width="31.6" height="3.8" fill="#f4f6f7" stroke="#c9d2d8" stroke-width="0.6"/>
<rect x="30.5" y="51.9" width="4.5" height="1.2" fill="#6fd0ee"/>
<rect x="20.2" y="55.2" width="25.2" height="17.2" fill="#39b4e0"/>
<rect x="21.8" y="72.2" width="22" height="1.4" fill="#39b4e0"/>
<circle cx="23.1" cy="73.5" r="1.45" fill="#39b4e0"/>
<circle cx="25.87" cy="73.5" r="1.45" fill="#39b4e0"/>
<circle cx="28.64" cy="73.5" r="1.45" fill="#39b4e0"/>
<circle cx="31.41" cy="73.5" r="1.45" fill="#39b4e0"/>
<circle cx="34.18" cy="73.5" r="1.45" fill="#39b4e0"/>
<circle cx="36.95" cy="73.5" r="1.45" fill="#39b4e0"/>
<circle cx="39.72" cy="73.5" r="1.45" fill="#39b4e0"/>
<circle cx="42.49" cy="73.5" r="1.45" fill="#39b4e0"/>
<rect x="22.6" y="56" width="1.3" height="16.5" fill="#93e3fb"/>
<rect x="25.95" y="56" width="1.3" height="16.5" fill="#93e3fb"/>
<rect x="29.3" y="56" width="1.3" height="16.5" fill="#93e3fb"/>
<rect x="32.65" y="56" width="1.3" height="16.5" fill="#93e3fb"/>
<rect x="36" y="56" width="1.3" height="16.5" fill="#93e3fb"/>
<rect x="39.35" y="56" width="1.3" height="16.5" fill="#93e3fb"/>
<rect x="42.7" y="56" width="1.3" height="16.5" fill="#93e3fb"/>
<rect x="20.2" y="55.2" width="1.6" height="17" fill="#a5dcf0"/>
<rect x="43.8" y="55.2" width="1.6" height="17" fill="#a5dcf0"/>
<g font-family='"Liberation Sans", sans-serif' font-size="7.4" fill="#2c2c2c" stroke="#2c2c2c" stroke-width="0.28">
<text x="60.5" y="51.4" textLength="68.3" lengthAdjust="spacingAndGlyphs">Осветителното тяло е</text>
<text x="60.5" y="60.4" textLength="77.6" lengthAdjust="spacingAndGlyphs">съвместимо с крушки от</text>
<text x="60.5" y="68.4" textLength="62" lengthAdjust="spacingAndGlyphs">енергийни класове:</text>
</g>
<path d="M15 105H38.5L46.5 112.5L38.5 120H15Z" fill="#0f9447"/>
<text x="18.9" y="117.4" font-family='"Liberation Sans", sans-serif' font-weight="700" font-size="13.3" fill="#fff">A<tspan font-size="9.2" dy="-4.5" dx="0.3" stroke="#fff" stroke-width="0.3">++</tspan></text>
<path d="M15 123.2H43.8L51.8 130.7L43.8 138.2H15Z" fill="#52a834"/>
<text x="18.9" y="135.4" font-family='"Liberation Sans", sans-serif' font-weight="700" font-size="13.3" fill="#fff">A<tspan font-size="9.2" dy="-4.5" dx="0.3" stroke="#fff" stroke-width="0.3">+</tspan></text>
<path d="M15 141.4H49.3L57.3 148.9L49.3 156.4H15Z" fill="#b7cd2f"/>
<text x="18.9" y="153.4" font-family='"Liberation Sans", sans-serif' font-weight="700" font-size="13.3" fill="#fff">A</text>
<path d="M15 159.6H54.8L62.8 167.1L54.8 174.6H15Z" fill="#fdec1f"/>
<text x="19.3" y="171.4" font-family='"Liberation Sans", sans-serif' font-weight="700" font-size="13.3" fill="#fff" textLength="8.3" lengthAdjust="spacingAndGlyphs">B</text>
<path d="M15 177.8H60.2L68.2 185.3L60.2 192.8H15Z" fill="#f8b123"/>
<text x="19.3" y="190.4" font-family='"Liberation Sans", sans-serif' font-weight="700" font-size="13.3" fill="#fff" textLength="8.3" lengthAdjust="spacingAndGlyphs">C</text>
<path d="M15 196H65.6L73.6 203.5L65.6 211H15Z" fill="#ed7428"/>
<text x="19.3" y="208.4" font-family='"Liberation Sans", sans-serif' font-weight="700" font-size="13.3" fill="#fff" textLength="8.3" lengthAdjust="spacingAndGlyphs">D</text>
<path d="M15 214.2H71L79 221.7L71 229.2H15Z" fill="#e4232b"/>
<text x="19.3" y="226.4" font-family='"Liberation Sans", sans-serif' font-weight="700" font-size="13.3" fill="#fff" textLength="8.3" lengthAdjust="spacingAndGlyphs">E</text>
<path d="M81 103.5C91 104.5 97.3 109 97.3 119V151C97.3 159 101 164.5 106.2 166.3C101 168 97.3 173.5 97.3 181.5V214C97.3 224 91 228.5 81.5 229.5C87 227 90.4 222 90.4 213V181C90.4 174 92 169 94 166.3C92 163.5 90.4 159 90.4 152V120C90.4 111 87 106 81 103.5Z" fill="#4a8fc6"/>
<g transform="translate(115.5 159.2) rotate(-51.5)">
<path d="M-3.1 15.2C-3.1 10.5 -7 6.2 -7 0A7 7.2 0 0 1 7 0C7 6.2 3.1 10.5 3.1 15.2Z" fill="#fff" stroke="#8b98a4" stroke-width="1.05"/>
<path d="M-3.3 15H3.3V19H-3.3Z" fill="#3f88c4"/>
<path d="M-3.3 19H3.3V22.4H-3.3Z" fill="#a9d3ee"/>
<path d="M-2.6 22.4H2.6L1.6 24.4H-1.6Z" fill="#4a6f96"/>
</g>
<g font-family='"Liberation Sans", sans-serif' font-size="7.4" fill="#2c2c2c" stroke="#2c2c2c" stroke-width="0.28">
<text x="28.8" y="256.4" textLength="118.4" lengthAdjust="spacingAndGlyphs">Осветителното тяло се продава с крушка</text>
<text x="28.8" y="265.4" textLength="50.15" lengthAdjust="spacingAndGlyphs">от енергиен клас:</text>
</g>
<path d="M97.6 261.5H125.3L129.7 267.4L125.3 273.3H97.6Z" fill="#ee7a2c"/>
<text x="102.2" y="271.4" font-family='"Liberation Sans", sans-serif' font-weight="700" font-size="12.2" fill="#fff">D</text>
<text x="17.6" y="307.4" font-family='"Liberation Sans", sans-serif' font-weight="700" font-size="9.8" fill="#111" stroke="#111" stroke-width="0.25" textLength="35.6" lengthAdjust="spacingAndGlyphs">874/2012</text>
<rect x="116.2" y="293" width="22.3" height="16.2" fill="#3b2b5e"/>
<circle cx="127.35" cy="296" r="0.8" fill="#e3cf8e"/>
<circle cx="129.95" cy="296.7" r="0.8" fill="#e3cf8e"/>
<circle cx="131.85" cy="298.6" r="0.8" fill="#e3cf8e"/>
<circle cx="132.55" cy="301.2" r="0.8" fill="#e3cf8e"/>
<circle cx="131.85" cy="303.8" r="0.8" fill="#e3cf8e"/>
<circle cx="129.95" cy="305.7" r="0.8" fill="#e3cf8e"/>
<circle cx="127.35" cy="306.4" r="0.8" fill="#e3cf8e"/>
<circle cx="124.75" cy="305.7" r="0.8" fill="#e3cf8e"/>
<circle cx="122.85" cy="303.8" r="0.8" fill="#e3cf8e"/>
<circle cx="122.15" cy="301.2" r="0.8" fill="#e3cf8e"/>
<circle cx="122.85" cy="298.6" r="0.8" fill="#e3cf8e"/>
<circle cx="124.75" cy="296.7" r="0.8" fill="#e3cf8e"/>
</g>
<text y="312" font-family='"DejaVu Sans Condensed", "DejaVu Sans", "Liberation Sans", sans-serif' font-size="41.43" fill="#606060"><tspan x="170.17" textLength="19.6" lengthAdjust="spacingAndGlyphs">E</tspan><tspan x="189.45" textLength="31" lengthAdjust="spacingAndGlyphs">N</tspan></text>
<text y="312" font-family='"DejaVu Sans Condensed", "DejaVu Sans", "Liberation Sans", sans-serif' font-size="41.43" fill="#606060"><tspan x="410.89" textLength="28.48" lengthAdjust="spacingAndGlyphs">D</tspan><tspan x="439.37" textLength="19.6" lengthAdjust="spacingAndGlyphs">E</tspan></text>
<text y="312" font-family='"DejaVu Sans Condensed", "DejaVu Sans", "Liberation Sans", sans-serif' font-size="41.43" fill="#606060"><tspan x="651.29" textLength="18.9" lengthAdjust="spacingAndGlyphs">F</tspan><tspan x="670.36" textLength="24.43" lengthAdjust="spacingAndGlyphs">R</tspan></text>
<text y="312" font-family='"DejaVu Sans Condensed", "DejaVu Sans", "Liberation Sans", sans-serif' font-size="41.43" fill="#606060"><tspan x="889.54" textLength="31.07" lengthAdjust="spacingAndGlyphs">N</tspan><tspan x="920.16" textLength="17.9" lengthAdjust="spacingAndGlyphs">L</tspan></text>
<text y="633" font-family='"DejaVu Sans Condensed", "DejaVu Sans", "Liberation Sans", sans-serif' font-size="41.43" fill="#606060"><tspan x="169.86" textLength="11.28" lengthAdjust="spacingAndGlyphs">I</tspan><tspan x="181.7" textLength="19.28" lengthAdjust="spacingAndGlyphs">T</tspan></text><rect x="171.1" y="602.3" width="9" height="3.3" fill="#606060"/><rect x="171.1" y="629.2" width="9" height="3.3" fill="#606060"/>
<text y="633" font-family='"DejaVu Sans Condensed", "DejaVu Sans", "Liberation Sans", sans-serif' font-size="41.43" fill="#606060"><tspan x="411.68" textLength="22.37" lengthAdjust="spacingAndGlyphs">P</tspan><tspan x="434.92" textLength="17.53" lengthAdjust="spacingAndGlyphs">L</tspan></text>
<text y="633" font-family='"DejaVu Sans Condensed", "DejaVu Sans", "Liberation Sans", sans-serif' font-size="41.43" fill="#606060"><tspan x="650.78" textLength="21.5" lengthAdjust="spacingAndGlyphs">S</tspan><tspan x="672.75" textLength="19.74" lengthAdjust="spacingAndGlyphs">E</tspan></text>
<text y="633" font-family='"DejaVu Sans Condensed", "DejaVu Sans", "Liberation Sans", sans-serif' font-size="41.43" fill="#606060"><tspan x="892.87" textLength="19.6" lengthAdjust="spacingAndGlyphs">E</tspan><tspan x="912.26" textLength="21.62" lengthAdjust="spacingAndGlyphs">S</tspan></text>
<text y="953" font-family='"DejaVu Sans Condensed", "DejaVu Sans", "Liberation Sans", sans-serif' font-size="41.43" fill="#606060"><tspan x="169.82" textLength="22.12" lengthAdjust="spacingAndGlyphs">P</tspan><tspan x="192.9" textLength="19.28" lengthAdjust="spacingAndGlyphs">T</tspan></text>
<text y="953" font-family='"DejaVu Sans Condensed", "DejaVu Sans", "Liberation Sans", sans-serif' font-size="41.43" fill="#606060"><tspan x="412.13" textLength="19.2" lengthAdjust="spacingAndGlyphs">E</tspan><tspan x="432.25" textLength="17.41" lengthAdjust="spacingAndGlyphs">L</tspan></text>
<text y="953" font-family='"DejaVu Sans Condensed", "DejaVu Sans", "Liberation Sans", sans-serif' font-size="41.43" fill="#606060"><tspan x="651.2" textLength="28.35" lengthAdjust="spacingAndGlyphs">D</tspan><tspan x="679.52" textLength="25.06" lengthAdjust="spacingAndGlyphs">A</tspan></text>
<text y="953" font-family='"DejaVu Sans Condensed", "DejaVu Sans", "Liberation Sans", sans-serif' font-size="41.43" fill="#606060"><tspan x="892.86" textLength="23.45" lengthAdjust="spacingAndGlyphs">B</tspan><tspan x="915.07" textLength="28.2" lengthAdjust="spacingAndGlyphs">G</tspan></text>
</svg></body></html>
